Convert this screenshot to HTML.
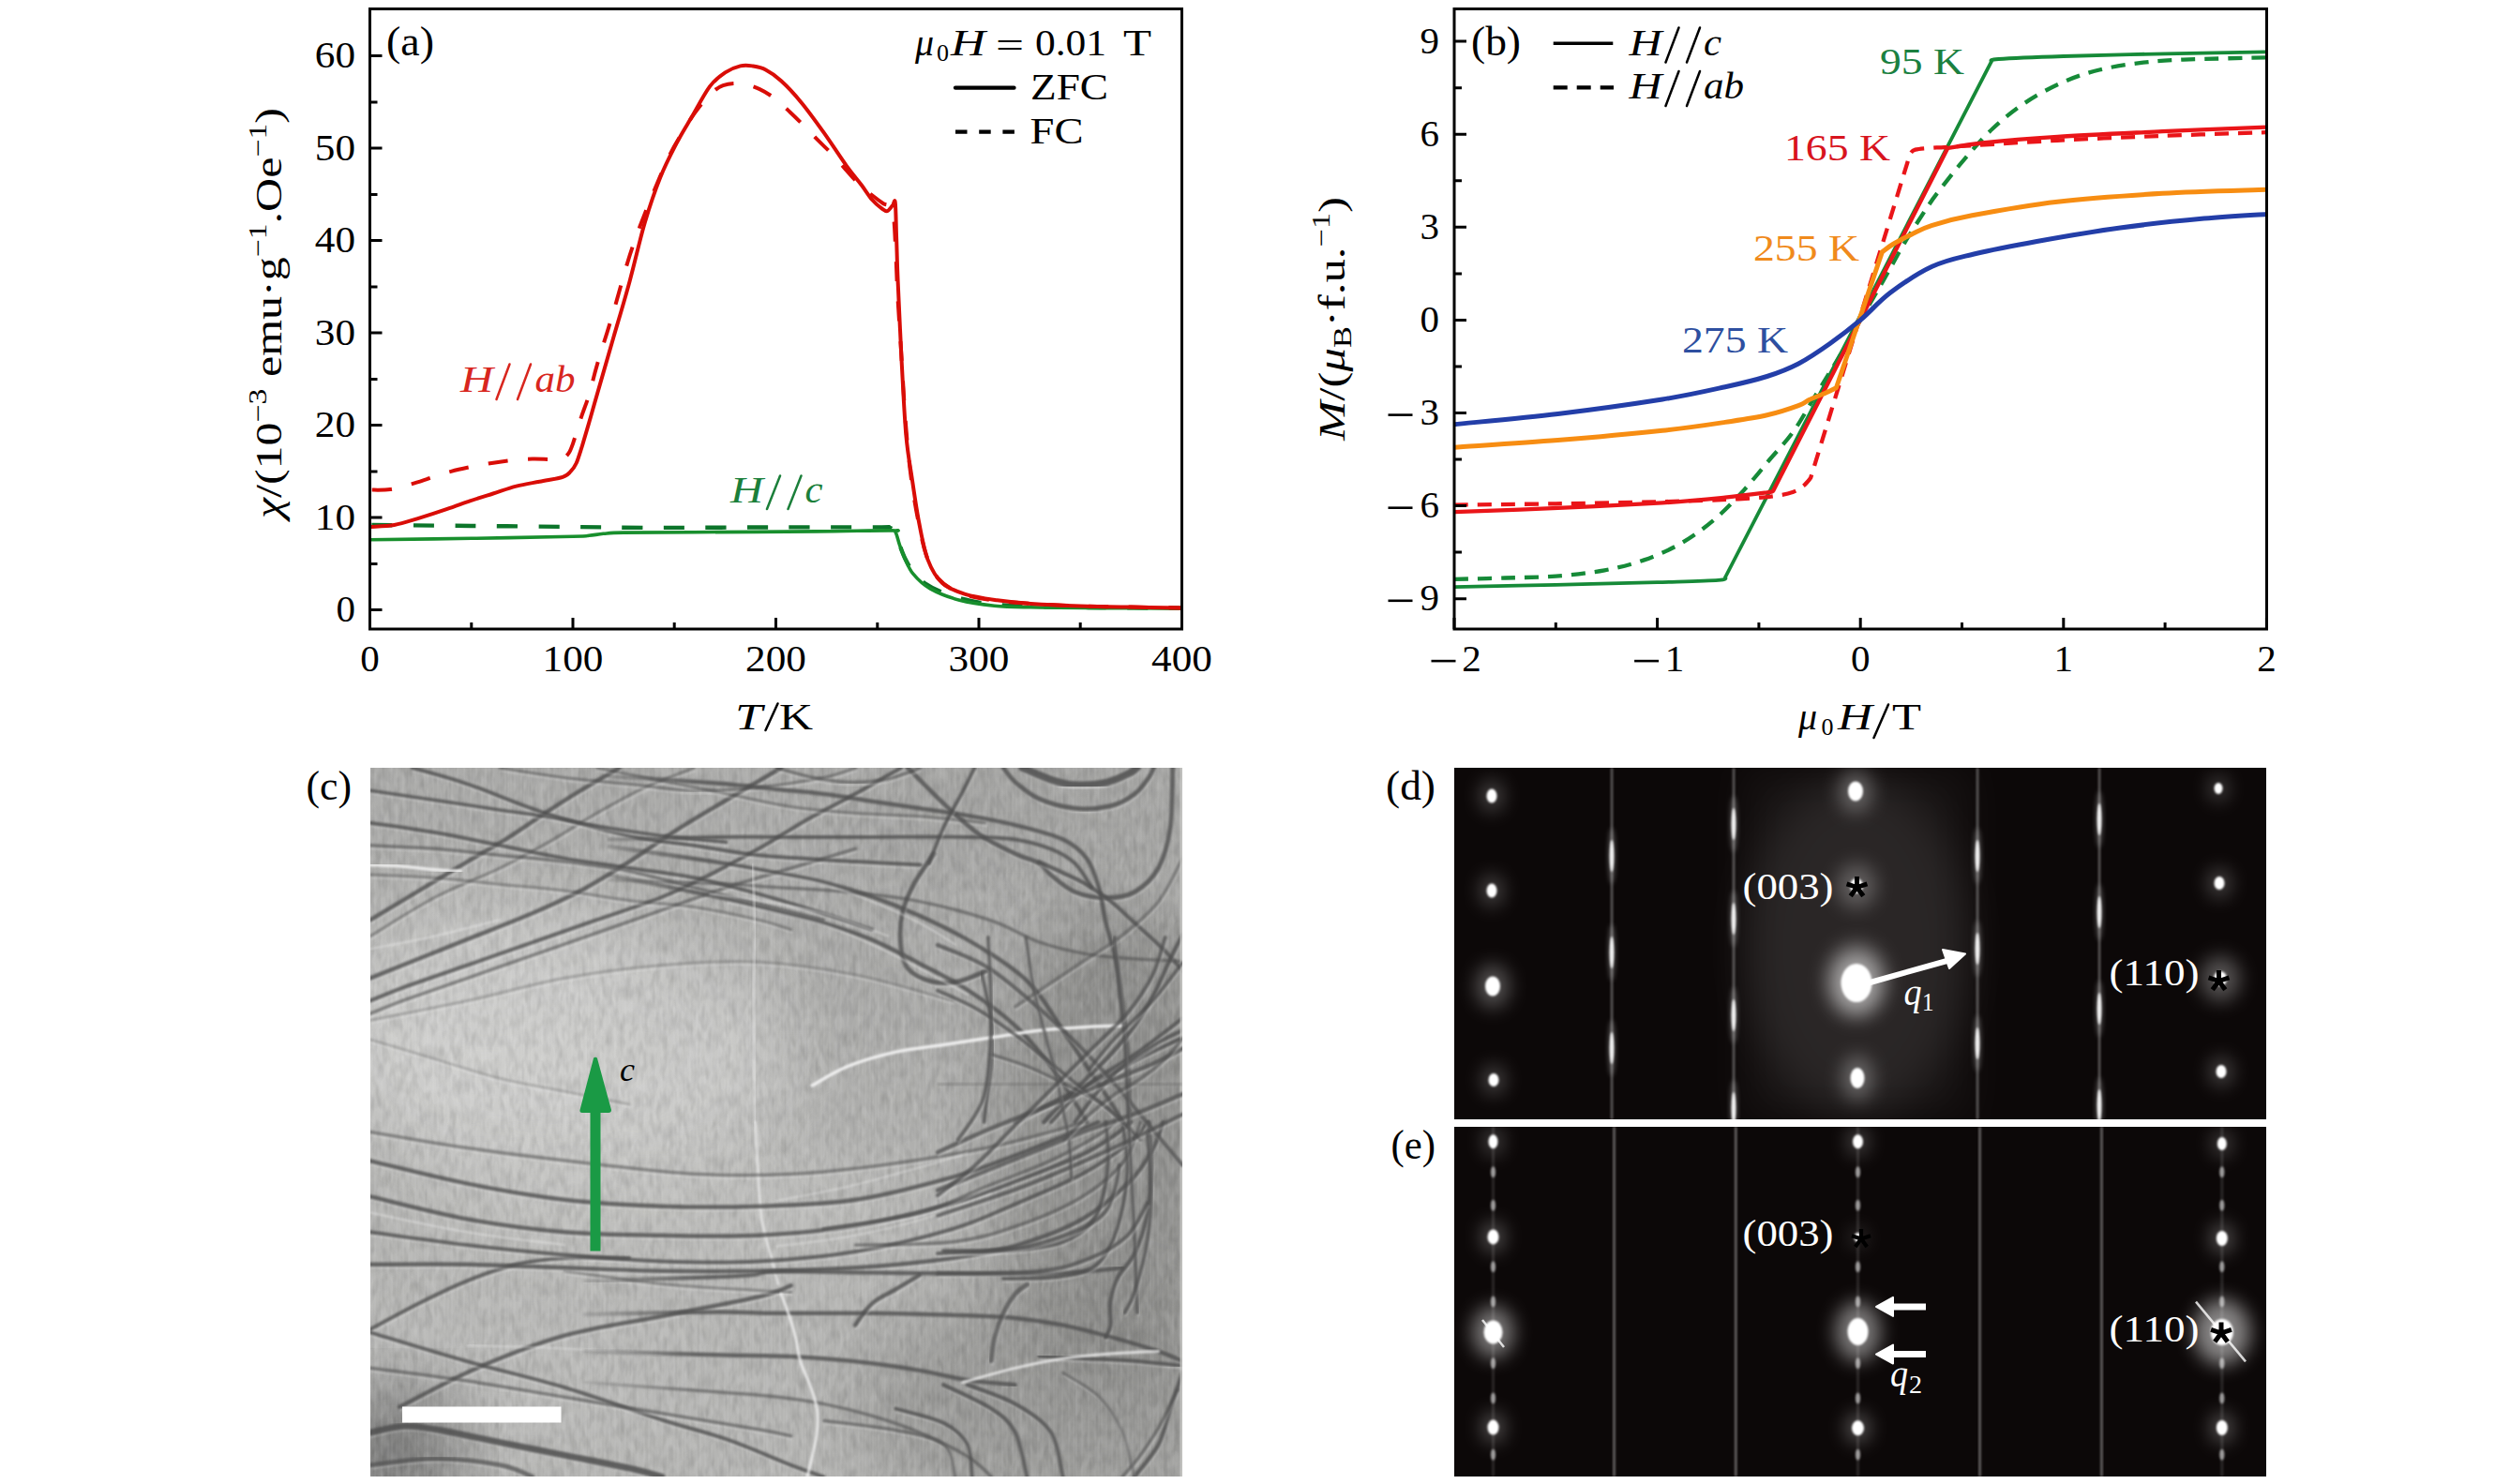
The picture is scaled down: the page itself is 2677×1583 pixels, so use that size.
<!DOCTYPE html><html><head><meta charset="utf-8"><style>html,body{margin:0;padding:0;background:#fff;overflow:hidden;width:2677px;height:1583px;}svg{display:block;}text{font-family:"Liberation Serif",serif;}</style></head><body>
<svg width="2677" height="1583" viewBox="0 0 2677 1583">
<defs>
<filter id="b1" x="-50%" y="-50%" width="200%" height="200%"><feGaussianBlur stdDeviation="1.2"/></filter>
<filter id="b2" x="-50%" y="-50%" width="200%" height="200%"><feGaussianBlur stdDeviation="2.5"/></filter>
<filter id="b4" x="-80%" y="-80%" width="260%" height="260%"><feGaussianBlur stdDeviation="5"/></filter>
<filter id="b8" x="-100%" y="-100%" width="300%" height="300%"><feGaussianBlur stdDeviation="10"/></filter>
<filter id="b16" x="-100%" y="-100%" width="300%" height="300%"><feGaussianBlur stdDeviation="22"/></filter>
<filter id="bs" x="-20%" y="-5%" width="140%" height="110%"><feGaussianBlur stdDeviation="1.0 3"/></filter>
<filter id="cb" x="-5%" y="-5%" width="110%" height="110%"><feGaussianBlur stdDeviation="1.3"/></filter>
<filter id="cb3" x="-10%" y="-10%" width="120%" height="120%"><feGaussianBlur stdDeviation="3"/></filter>
<filter id="noise" x="0" y="0" width="100%" height="100%"><feTurbulence type="fractalNoise" baseFrequency="0.15 0.06" numOctaves="2" seed="7" result="t"/><feColorMatrix type="matrix" values="0 0 0 0 0  0 0 0 0 0  0 0 0 0 0  -1.6 0 0 0 1.0" /></filter>
<filter id="noise2" x="0" y="0" width="100%" height="100%"><feTurbulence type="fractalNoise" baseFrequency="0.15 0.06" numOctaves="2" seed="11" result="t"/><feColorMatrix type="matrix" values="0 0 0 0 1  0 0 0 0 1  0 0 0 0 1  1.6 0 0 0 -0.6" /></filter>
<linearGradient id="topdark" x1="0" y1="0" x2="0" y2="1"><stop offset="0" stop-color="#000" stop-opacity="0.06"/><stop offset="0.3" stop-color="#000" stop-opacity="0.03"/><stop offset="0.45" stop-color="#000" stop-opacity="0"/><stop offset="1" stop-color="#000" stop-opacity="0"/></linearGradient>
<linearGradient id="fadeL" gradientUnits="userSpaceOnUse" x1="590" y1="0" x2="740" y2="0"><stop offset="0" stop-color="#505050" stop-opacity="0"/><stop offset="1" stop-color="#505050" stop-opacity="1"/></linearGradient>
<filter id="cbig" x="-30%" y="-30%" width="160%" height="160%"><feGaussianBlur stdDeviation="40"/></filter>
</defs>
<path d="M394.5,560.0 C412.5,560.1 466.7,560.6 502.8,561.0 C538.8,561.3 578.5,561.6 611.0,562.0 C643.5,562.3 661.5,562.9 697.6,562.9 C733.7,563.0 787.8,562.5 827.5,562.4 C867.2,562.4 915.5,562.4 935.8,562.4 C956.0,562.5 945.5,561.9 948.7,562.9 C952.0,564.0 953.4,565.7 955.2,568.8 C957.0,572.0 957.8,576.9 959.6,581.6 C961.4,586.4 963.5,592.5 966.1,597.4 C968.6,602.3 971.1,606.9 974.7,611.2 C978.3,615.5 982.7,619.6 987.7,623.0 C992.8,626.5 998.5,629.3 1005.0,631.9 C1011.5,634.5 1018.4,636.7 1026.7,638.8 C1035.0,640.8 1042.9,642.9 1054.8,644.2 C1066.7,645.5 1078.3,646.2 1098.1,646.9 C1118.0,647.5 1146.8,647.8 1173.9,648.1 C1201.0,648.4 1246.1,648.5 1260.5,648.6" fill="none" stroke="#0c752a" stroke-width="4.4" stroke-linejoin="round" stroke-dasharray="22 22.5" stroke-dashoffset="-2.0"/>
<path d="M394.5,575.7 C412.5,575.5 466.7,574.8 502.8,574.3 C538.8,573.7 590.1,572.8 611.0,572.3 C631.9,571.8 622.9,571.8 628.3,571.3 C633.7,570.8 637.3,569.9 643.5,569.3 C649.6,568.8 648.9,568.3 665.1,568.1 C681.4,567.8 706.6,567.9 740.9,567.7 C775.2,567.5 835.8,567.2 870.8,566.9 C905.8,566.6 936.8,565.7 950.9,565.9 C965.0,566.1 953.8,565.2 955.2,567.9 C956.7,570.5 957.9,577.1 959.6,581.6 C961.2,586.2 962.6,590.4 965.0,595.4 C967.4,600.5 969.3,606.8 973.9,612.2 C978.4,617.6 983.8,623.3 992.0,627.9 C1000.3,632.6 1012.0,637.2 1023.4,640.3 C1034.8,643.3 1047.8,644.9 1060.5,646.2 C1073.1,647.4 1080.5,647.4 1099.4,647.8 C1118.3,648.3 1147.1,648.4 1173.9,648.6 C1200.7,648.8 1246.1,649.0 1260.5,649.1" fill="none" stroke="#188f2d" stroke-width="3.6" stroke-linejoin="round"/>
<path d="M394.5,522.6 C398.1,522.5 408.9,523.0 416.1,522.1 C423.4,521.1 430.6,518.7 437.8,516.6 C445.0,514.6 452.2,512.0 459.4,509.7 C466.7,507.4 473.9,504.8 481.1,502.9 C488.3,500.9 495.5,499.4 502.8,497.9 C510.0,496.4 517.2,495.1 524.4,494.0 C531.6,492.8 538.8,491.8 546.0,491.0 C553.3,490.3 560.5,489.7 567.7,489.6 C574.9,489.4 583.9,490.1 589.4,490.0 C594.8,490.0 597.3,490.2 600.2,489.1 C603.1,487.9 604.9,485.8 606.7,483.2 C608.5,480.5 608.8,479.5 611.0,473.3 C613.2,467.1 616.8,454.4 619.7,445.7 C622.5,437.0 625.4,430.6 628.3,421.1 C631.2,411.6 632.6,403.4 637.0,388.6 C641.3,373.8 648.9,350.7 654.3,332.4 C659.7,314.2 664.8,294.4 669.5,279.3 C674.1,264.2 677.8,254.5 682.4,241.8 C687.1,229.2 692.2,216.4 697.6,203.4 C703.0,190.4 709.9,174.4 714.9,164.0 C720.0,153.7 723.6,148.6 727.9,141.4 C732.2,134.1 736.2,127.2 740.9,120.7 C745.6,114.1 751.0,106.9 756.1,102.0 C761.1,97.0 765.4,93.3 771.2,91.1 C777.0,89.0 784.2,88.5 790.7,89.2 C797.2,89.8 804.0,92.3 810.2,95.1 C816.3,97.9 822.1,101.8 827.5,105.9 C832.9,110.0 837.6,114.9 842.7,119.7 C847.7,124.4 852.8,129.4 857.8,134.5 C862.9,139.5 868.3,145.5 873.0,150.2 C877.7,155.0 881.3,158.1 886.0,163.0 C890.6,168.0 896.1,174.2 901.1,179.8 C906.2,185.4 911.2,191.6 916.3,196.5 C921.3,201.4 927.1,205.9 931.4,209.3 C935.8,212.8 939.4,215.4 942.2,217.2 C945.1,219.0 946.9,217.7 948.7,220.2 C950.5,222.6 952.0,224.3 953.1,232.0 C954.2,239.7 954.5,252.5 955.2,266.5 C956.0,280.4 956.3,296.0 957.4,315.7 C958.5,335.4 960.3,361.7 961.7,384.7 C963.2,407.6 964.4,433.1 966.1,453.6 C967.7,474.1 969.3,491.0 971.5,507.8 C973.6,524.5 976.3,540.1 979.0,554.1 C981.8,568.0 984.1,581.0 987.7,591.5 C991.3,602.0 994.9,610.4 1000.7,617.1 C1006.5,623.8 1013.3,628.1 1022.4,631.9 C1031.4,635.7 1042.2,637.8 1054.8,639.8 C1067.5,641.7 1081.9,642.6 1098.1,643.7 C1114.4,644.8 1134.2,645.8 1152.2,646.5 C1170.3,647.1 1188.3,647.3 1206.4,647.6 C1224.4,648.0 1251.5,648.3 1260.5,648.4" fill="none" stroke="#d90d07" stroke-width="4.0" stroke-linejoin="round" stroke-dasharray="21 21.5" stroke-dashoffset="-2.5"/>
<path d="M394.5,562.0 C398.8,561.6 412.0,561.5 420.5,560.0 C429.0,558.5 436.3,555.9 445.6,553.1 C454.9,550.3 467.1,546.4 476.3,543.2 C485.6,540.1 493.0,537.2 501.2,534.4 C509.5,531.6 517.7,529.1 525.9,526.5 C534.1,523.9 542.3,520.7 550.6,518.6 C558.9,516.5 567.2,515.3 575.5,513.7 C583.8,512.0 594.7,510.6 600.2,508.8 C605.7,507.0 606.2,505.3 608.6,502.9 C611.0,500.4 612.6,498.6 614.7,494.0 C616.7,489.4 618.7,482.5 621.0,475.3 C623.2,468.0 625.6,459.8 628.3,450.6 C631.0,441.5 632.6,435.2 637.0,420.1 C641.3,405.0 648.5,380.1 654.3,360.0 C660.1,340.0 666.1,320.3 671.6,299.9 C677.2,279.6 682.2,256.3 687.6,237.9 C693.1,219.5 698.5,203.7 704.1,189.6 C709.7,175.5 715.8,164.0 721.4,153.2 C727.0,142.3 731.9,134.8 737.9,124.6 C743.8,114.4 751.2,100.0 757.1,92.1 C763.1,84.2 768.0,80.9 773.4,77.3 C778.8,73.7 784.7,71.6 789.6,70.4 C794.5,69.3 798.1,69.8 802.6,70.4 C807.1,71.1 811.6,71.7 816.7,74.4 C821.8,77.0 826.9,80.4 833.1,86.2 C839.4,91.9 846.8,99.7 854.3,108.9 C861.9,118.0 870.5,130.0 878.6,141.4 C886.7,152.7 896.1,167.5 902.8,176.8 C909.6,186.2 914.3,191.4 918.9,197.5 C923.4,203.6 926.8,209.2 930.3,213.3 C933.9,217.4 937.4,220.2 940.1,222.1 C942.8,224.1 944.4,225.6 946.4,225.1 C948.3,224.6 950.6,220.6 952.0,219.2 C953.4,217.7 954.1,210.5 954.8,216.2 C955.5,222.0 955.6,239.7 956.1,253.6 C956.6,267.6 956.7,277.8 957.6,299.9 C958.6,322.1 960.3,359.4 961.7,386.6 C963.2,413.9 964.5,442.9 966.3,463.5 C968.1,484.0 970.2,494.1 972.6,509.7 C974.9,525.3 977.3,542.4 980.1,557.0 C983.0,571.6 985.5,586.6 989.7,597.4 C993.8,608.2 998.4,616.0 1005.0,622.0 C1011.7,628.1 1019.8,630.8 1029.5,633.9 C1039.2,636.9 1051.8,638.6 1063.5,640.3 C1075.1,641.9 1084.6,643.0 1099.4,644.0 C1114.2,645.0 1134.4,645.9 1152.2,646.5 C1170.1,647.1 1188.3,647.3 1206.4,647.6 C1224.4,648.0 1251.5,648.3 1260.5,648.4" fill="none" stroke="#d90d07" stroke-width="4.0" stroke-linejoin="round"/>
<rect x="394.5" y="9.5" width="866.0" height="661.5" fill="none" stroke="#000" stroke-width="3"/>
<path d="M394.5,650.6 h13.0 M394.5,601.4 h8.0 M394.5,552.1 h13.0 M394.5,502.9 h8.0 M394.5,453.6 h13.0 M394.5,404.4 h8.0 M394.5,355.1 h13.0 M394.5,305.9 h8.0 M394.5,256.6 h13.0 M394.5,207.4 h8.0 M394.5,158.1 h13.0 M394.5,108.9 h8.0 M394.5,59.6 h13.0 M394.5,671.0 v-12.0 M502.8,671.0 v-7.0 M611.0,671.0 v-12.0 M719.2,671.0 v-7.0 M827.5,671.0 v-12.0 M935.8,671.0 v-7.0 M1044.0,671.0 v-12.0 M1152.2,671.0 v-7.0 M1260.5,671.0 v-12.0" stroke="#000" stroke-width="3" fill="none"/>
<text x="379.0" y="663.1" font-size="41.0" text-anchor="end" fill="#000" >0</text>
<text x="379.0" y="564.6" font-size="41.0" text-anchor="end" fill="#000" textLength="43.2" lengthAdjust="spacingAndGlyphs" >10</text>
<text x="379.0" y="466.1" font-size="41.0" text-anchor="end" fill="#000" textLength="43.2" lengthAdjust="spacingAndGlyphs" >20</text>
<text x="379.0" y="367.6" font-size="41.0" text-anchor="end" fill="#000" textLength="43.2" lengthAdjust="spacingAndGlyphs" >30</text>
<text x="379.0" y="269.1" font-size="41.0" text-anchor="end" fill="#000" textLength="43.2" lengthAdjust="spacingAndGlyphs" >40</text>
<text x="379.0" y="170.6" font-size="41.0" text-anchor="end" fill="#000" textLength="43.2" lengthAdjust="spacingAndGlyphs" >50</text>
<text x="379.0" y="72.1" font-size="41.0" text-anchor="end" fill="#000" textLength="43.2" lengthAdjust="spacingAndGlyphs" >60</text>
<text x="394.5" y="716.0" font-size="41.0" text-anchor="middle" fill="#000" >0</text>
<text x="611.0" y="716.0" font-size="41.0" text-anchor="middle" fill="#000" textLength="64.8" lengthAdjust="spacingAndGlyphs" >100</text>
<text x="827.5" y="716.0" font-size="41.0" text-anchor="middle" fill="#000" textLength="64.8" lengthAdjust="spacingAndGlyphs" >200</text>
<text x="1044.0" y="716.0" font-size="41.0" text-anchor="middle" fill="#000" textLength="64.8" lengthAdjust="spacingAndGlyphs" >300</text>
<text x="1260.5" y="716.0" font-size="41.0" text-anchor="middle" fill="#000" textLength="64.8" lengthAdjust="spacingAndGlyphs" >400</text>
<text x="412.0" y="58.9" font-size="44.0" text-anchor="start" fill="#000" textLength="51.0" lengthAdjust="spacingAndGlyphs" >(a)</text>
<text x="976.0" y="58.5" font-size="40.0" text-anchor="start" fill="#000" font-style="italic" >μ</text>
<text x="999.0" y="64.5" font-size="26.0" text-anchor="start" fill="#000" >0</text>
<text x="1014.0" y="58.5" font-size="40.0" text-anchor="start" fill="#000" font-style="italic" textLength="37.0" lengthAdjust="spacingAndGlyphs" >H</text>
<text x="1062.0" y="61.5" font-size="40.0" text-anchor="start" fill="#000" textLength="30.0" lengthAdjust="spacingAndGlyphs" >=</text>
<text x="1104.0" y="58.5" font-size="40.0" text-anchor="start" fill="#000" textLength="76.0" lengthAdjust="spacingAndGlyphs" >0.01</text>
<text x="1198.0" y="58.5" font-size="40.0" text-anchor="start" fill="#000" textLength="30.0" lengthAdjust="spacingAndGlyphs" >T</text>
<line x1="1019" y1="93.7" x2="1081.5" y2="93.7" stroke="#000" stroke-width="4.3" stroke-linecap="round"/>
<line x1="1019" y1="140.7" x2="1082" y2="140.7" stroke="#000" stroke-width="4.3" stroke-dasharray="12.5 12.7"/>
<text x="1099.0" y="105.5" font-size="40.0" text-anchor="start" fill="#000" textLength="83.0" lengthAdjust="spacingAndGlyphs" >ZFC</text>
<text x="1098.5" y="152.6" font-size="40.0" text-anchor="start" fill="#000" textLength="57.0" lengthAdjust="spacingAndGlyphs" >FC</text>
<text x="491.0" y="417.7" font-size="40.0" text-anchor="start" fill="#d8261e" font-style="italic" textLength="35.0" lengthAdjust="spacingAndGlyphs" >H</text>
<line x1="529.5" y1="426.0" x2="543.5" y2="388.5" stroke="#d8261e" stroke-width="2.5" stroke-linecap="round"/>
<line x1="552.0" y1="426.0" x2="566.0" y2="388.5" stroke="#d8261e" stroke-width="2.5" stroke-linecap="round"/>
<text x="570.5" y="417.7" font-size="40.0" text-anchor="start" fill="#d8261e" font-style="italic" textLength="43.0" lengthAdjust="spacingAndGlyphs" >ab</text>
<text x="779.0" y="535.7" font-size="40.0" text-anchor="start" fill="#1b7f3a" font-style="italic" textLength="35.0" lengthAdjust="spacingAndGlyphs" >H</text>
<line x1="818.0" y1="543.0" x2="832.0" y2="507.5" stroke="#1b7f3a" stroke-width="2.5" stroke-linecap="round"/>
<line x1="840.5" y1="543.0" x2="854.5" y2="507.5" stroke="#1b7f3a" stroke-width="2.5" stroke-linecap="round"/>
<text x="858.5" y="535.7" font-size="40.0" text-anchor="start" fill="#1b7f3a" font-style="italic" textLength="19.0" lengthAdjust="spacingAndGlyphs" >c</text>
<text x="784.0" y="778.0" font-size="40.0" text-anchor="start" fill="#000" font-style="italic" textLength="29.0" lengthAdjust="spacingAndGlyphs" >T</text>
<line x1="816.5" y1="779.0" x2="829.5" y2="750.5" stroke="#000" stroke-width="2.5" stroke-linecap="round"/>
<text x="831.0" y="778.0" font-size="40.0" text-anchor="start" fill="#000" textLength="36.0" lengthAdjust="spacingAndGlyphs" >K</text>
<text transform="translate(299.5,553) rotate(-90)" font-size="40" fill="#000" textLength="438" lengthAdjust="spacingAndGlyphs"><tspan font-style="italic">χ</tspan>/(10<tspan font-size="27" dy="-16">−3</tspan><tspan dy="16"> emu·g</tspan><tspan font-size="27" dy="-16">−1</tspan><tspan dy="16">.Oe</tspan><tspan font-size="27" dy="-16">−1</tspan><tspan dy="16">)</tspan></text>
<path d="M1551.0,617.9 C1560.0,617.6 1587.1,617.1 1605.2,616.5 C1623.2,616.0 1641.6,615.9 1659.3,614.6 C1677.0,613.2 1695.6,611.1 1711.3,608.3 C1727.0,605.4 1739.8,602.2 1753.5,597.4 C1767.2,592.5 1781.0,586.5 1793.6,579.2 C1806.2,571.9 1817.9,563.1 1828.9,553.8 C1839.9,544.4 1849.9,533.7 1859.7,523.1 C1869.4,512.4 1878.8,500.5 1887.6,490.0 C1896.4,479.6 1904.5,471.9 1912.7,460.3 C1921.0,448.7 1929.2,433.3 1937.0,420.7 C1944.7,408.0 1951.4,397.6 1959.3,384.3 C1967.2,371.1 1975.9,355.7 1984.2,341.4 C1992.5,327.1 2001.2,312.2 2009.1,298.5 C2017.0,284.7 2023.7,271.8 2031.4,258.8 C2039.2,245.9 2049.5,230.1 2055.7,220.8 C2061.9,211.5 2061.7,211.8 2068.5,203.0 C2075.2,194.3 2086.9,179.3 2096.4,168.3 C2105.9,157.4 2114.8,147.0 2125.2,137.3 C2135.6,127.6 2146.7,118.4 2159.0,110.2 C2171.3,102.0 2185.7,94.0 2199.1,88.1 C2212.4,82.1 2225.0,78.0 2239.1,74.5 C2253.3,71.0 2269.1,68.7 2284.0,66.9 C2298.9,65.1 2306.4,64.6 2328.6,63.6 C2350.8,62.7 2402.6,61.7 2417.4,61.3" fill="none" stroke="#168a38" stroke-width="4.3" stroke-linejoin="round" stroke-dasharray="15 10"/>
<path d="M1551.0,626.1 C1569.0,625.7 1623.2,624.6 1659.3,623.8 C1695.4,623.0 1738.7,622.0 1767.6,621.2 C1796.5,620.3 1820.5,619.8 1832.6,618.9 C1844.7,617.9 1838.9,616.1 1840.2,615.5 L1840.2,615.5 L2123.9,65.6 L2123.9,65.6 C2125.2,65.2 2118.7,63.9 2131.5,63.0 C2144.3,62.0 2171.2,60.9 2200.8,60.0 C2230.4,59.0 2273.0,58.1 2309.1,57.3 C2345.2,56.6 2399.3,55.7 2417.4,55.4" fill="none" stroke="#168a38" stroke-width="3.8" stroke-linejoin="round"/>
<path d="M1551.0,538.6 C1569.0,538.4 1623.2,537.8 1659.3,537.3 C1695.4,536.7 1735.1,536.1 1767.6,535.3 C1800.1,534.5 1833.3,533.4 1854.2,532.3 C1875.2,531.3 1883.5,530.3 1893.2,529.0 C1903.0,527.7 1907.7,526.5 1912.7,524.7 C1917.8,522.9 1920.5,520.6 1923.6,518.1 C1926.6,515.6 1929.9,511.2 1931.1,509.9 L1931.1,509.9 L2037.3,163.7 L2037.3,163.7 C2038.2,163.0 2038.9,160.7 2042.7,159.7 C2046.5,158.7 2053.3,158.3 2060.0,157.8 C2066.8,157.2 2060.8,157.8 2083.2,156.4 C2105.6,155.1 2157.0,151.8 2194.3,149.8 C2231.6,147.9 2269.8,146.3 2306.9,144.9 C2344.1,143.4 2399.0,141.8 2417.4,141.2" fill="none" stroke="#ea1519" stroke-width="4.3" stroke-linejoin="round" stroke-dasharray="15 10"/>
<path d="M1551.0,546.2 C1569.4,545.5 1624.5,543.5 1661.5,541.9 C1698.5,540.2 1743.3,538.1 1773.0,536.3 C1802.8,534.4 1821.4,532.5 1839.9,530.7 C1858.5,528.8 1876.0,526.5 1884.6,525.4 C1893.1,524.2 1890.0,524.0 1891.1,523.7 L1891.1,523.7 L2077.3,158.1 L2077.3,158.1 C2083.5,157.1 2094.6,154.5 2114.2,152.5 C2133.7,150.4 2162.5,147.9 2194.5,145.9 C2226.5,143.8 2269.1,142.0 2306.3,140.2 C2343.4,138.5 2398.9,136.4 2417.4,135.6" fill="none" stroke="#ea1519" stroke-width="4.3" stroke-linejoin="round"/>
<path d="M1551.0,477.2 C1569.4,475.9 1624.5,472.5 1661.5,469.6 C1698.5,466.6 1743.3,462.5 1773.0,459.3 C1802.8,456.1 1821.4,453.2 1839.9,450.4 C1858.5,447.6 1871.5,445.8 1884.6,442.8 C1897.6,439.8 1910.7,435.3 1918.1,432.6 C1925.6,429.9 1924.5,428.9 1929.4,426.6 C1934.3,424.4 1942.5,421.2 1947.4,419.0 C1952.2,416.9 1956.6,414.6 1958.4,413.7 L1958.4,413.7 L2007.4,268.7 L2007.4,268.7 C2009.3,267.4 2013.7,263.6 2018.9,260.5 C2024.0,257.4 2031.4,253.6 2038.4,250.2 C2045.3,246.9 2049.8,243.7 2060.7,240.3 C2071.5,236.9 2081.0,233.9 2103.3,229.8 C2125.6,225.6 2160.7,219.1 2194.5,215.2 C2228.3,211.3 2269.1,208.5 2306.3,206.3 C2343.4,204.2 2398.9,203.0 2417.4,202.3" fill="none" stroke="#f78d12" stroke-width="5.0" stroke-linejoin="round"/>
<path d="M1551.0,452.7 C1569.4,450.8 1624.5,445.9 1661.5,441.5 C1698.5,437.0 1743.3,430.7 1773.0,426.0 C1802.8,421.2 1821.4,416.8 1839.9,412.7 C1858.5,408.7 1871.5,405.6 1884.6,401.5 C1897.6,397.4 1906.9,393.8 1918.1,388.0 C1929.3,382.1 1940.7,374.3 1951.7,366.5 C1962.7,358.7 1973.5,350.4 1984.2,341.4 C1994.9,332.4 2003.3,321.9 2016.0,312.3 C2028.8,302.8 2045.8,291.1 2060.7,284.3 C2075.5,277.4 2086.7,275.5 2105.3,271.0 C2123.9,266.6 2146.4,262.2 2172.4,257.5 C2198.5,252.8 2231.7,247.0 2261.4,243.0 C2291.2,238.9 2324.7,235.5 2350.7,233.1 C2376.7,230.6 2406.3,229.2 2417.4,228.4" fill="none" stroke="#233ea8" stroke-width="5.0" stroke-linejoin="round"/>
<rect x="1551.0" y="9.5" width="866.5" height="661.5" fill="none" stroke="#000" stroke-width="3"/>
<path d="M1551.0,638.7 h13.0 M1551.0,589.1 h8.0 M1551.0,539.6 h13.0 M1551.0,490.0 h8.0 M1551.0,440.5 h13.0 M1551.0,390.9 h8.0 M1551.0,341.4 h13.0 M1551.0,291.9 h8.0 M1551.0,242.3 h13.0 M1551.0,192.8 h8.0 M1551.0,143.2 h13.0 M1551.0,93.7 h8.0 M1551.0,44.1 h13.0 M1551.0,671.0 v-12.0 M1659.3,671.0 v-7.0 M1767.6,671.0 v-12.0 M1875.9,671.0 v-7.0 M1984.2,671.0 v-12.0 M2092.5,671.0 v-7.0 M2200.8,671.0 v-12.0 M2309.1,671.0 v-7.0 M2417.4,671.0 v-12.0" stroke="#000" stroke-width="3" fill="none"/>
<text x="1535.0" y="56.6" font-size="41.0" text-anchor="end" fill="#000" >9</text>
<text x="1535.0" y="155.7" font-size="41.0" text-anchor="end" fill="#000" >6</text>
<text x="1535.0" y="254.8" font-size="41.0" text-anchor="end" fill="#000" >3</text>
<text x="1535.0" y="353.9" font-size="41.0" text-anchor="end" fill="#000" >0</text>
<text x="1535.0" y="453.0" font-size="41.0" text-anchor="end" fill="#000" >3</text>
<rect x="1480.5" y="441.3" width="26" height="2.6" fill="#000"/>
<text x="1535.0" y="552.1" font-size="41.0" text-anchor="end" fill="#000" >6</text>
<rect x="1480.5" y="540.4" width="26" height="2.6" fill="#000"/>
<text x="1535.0" y="651.2" font-size="41.0" text-anchor="end" fill="#000" >9</text>
<rect x="1480.5" y="639.5" width="26" height="2.6" fill="#000"/>
<rect x="1526.5" y="703.8" width="26" height="2.6" fill="#000"/>
<text x="1569.5" y="716.0" font-size="41.0" text-anchor="middle" fill="#000" >2</text>
<rect x="1743.1" y="703.8" width="26" height="2.6" fill="#000"/>
<text x="1786.1" y="716.0" font-size="41.0" text-anchor="middle" fill="#000" >1</text>
<text x="1984.2" y="716.0" font-size="41.0" text-anchor="middle" fill="#000" >0</text>
<text x="2200.8" y="716.0" font-size="41.0" text-anchor="middle" fill="#000" >1</text>
<text x="2417.4" y="716.0" font-size="41.0" text-anchor="middle" fill="#000" >2</text>
<text x="1569.0" y="58.9" font-size="44.0" text-anchor="start" fill="#000" textLength="53.0" lengthAdjust="spacingAndGlyphs" >(b)</text>
<line x1="1656.7" y1="46.3" x2="1720.3" y2="46.3" stroke="#000" stroke-width="3.4"/>
<line x1="1656.7" y1="93.3" x2="1721" y2="93.3" stroke="#000" stroke-width="4.3" stroke-dasharray="15 10"/>
<text x="1737.5" y="58.8" font-size="40.0" text-anchor="start" fill="#000" font-style="italic" textLength="35.0" lengthAdjust="spacingAndGlyphs" >H</text>
<line x1="1776.5" y1="66.5" x2="1790.5" y2="29.5" stroke="#000" stroke-width="2.5" stroke-linecap="round"/>
<line x1="1799.0" y1="66.5" x2="1813.0" y2="29.5" stroke="#000" stroke-width="2.5" stroke-linecap="round"/>
<text x="1817.0" y="58.8" font-size="40.0" text-anchor="start" fill="#000" font-style="italic" textLength="19.0" lengthAdjust="spacingAndGlyphs" >c</text>
<text x="1737.5" y="105.2" font-size="40.0" text-anchor="start" fill="#000" font-style="italic" textLength="35.0" lengthAdjust="spacingAndGlyphs" >H</text>
<line x1="1776.5" y1="113.0" x2="1790.5" y2="76.0" stroke="#000" stroke-width="2.5" stroke-linecap="round"/>
<line x1="1799.0" y1="113.0" x2="1813.0" y2="76.0" stroke="#000" stroke-width="2.5" stroke-linecap="round"/>
<text x="1817.0" y="105.2" font-size="40.0" text-anchor="start" fill="#000" font-style="italic" textLength="43.0" lengthAdjust="spacingAndGlyphs" >ab</text>
<text x="2005.0" y="79.0" font-size="40.0" text-anchor="start" fill="#1b8040" textLength="90.0" lengthAdjust="spacingAndGlyphs" >95 K</text>
<text x="1903.0" y="170.5" font-size="40.0" text-anchor="start" fill="#d8141e" textLength="113.0" lengthAdjust="spacingAndGlyphs" >165 K</text>
<text x="1870.0" y="277.7" font-size="40.0" text-anchor="start" fill="#f08a1c" textLength="113.0" lengthAdjust="spacingAndGlyphs" >255 K</text>
<text x="1794.0" y="375.7" font-size="40.0" text-anchor="start" fill="#2e4fa0" textLength="113.0" lengthAdjust="spacingAndGlyphs" >275 K</text>
<text x="1918.0" y="778.0" font-size="40.0" text-anchor="start" fill="#000" font-style="italic" >μ</text>
<text x="1942.5" y="784.3" font-size="26.0" text-anchor="start" fill="#000" >0</text>
<text x="1960.0" y="778.0" font-size="40.0" text-anchor="start" fill="#000" font-style="italic" textLength="37.0" lengthAdjust="spacingAndGlyphs" >H</text>
<line x1="1998.5" y1="787.0" x2="2014.0" y2="751.5" stroke="#000" stroke-width="2.5" stroke-linecap="round"/>
<text x="2018.0" y="778.0" font-size="40.0" text-anchor="start" fill="#000" textLength="31.0" lengthAdjust="spacingAndGlyphs" >T</text>
<text transform="translate(1433.5,470) rotate(-90)" font-size="40" fill="#000" textLength="260" lengthAdjust="spacingAndGlyphs"><tspan font-style="italic">M</tspan>/(<tspan font-style="italic">μ</tspan><tspan font-size="27" dy="7">B</tspan><tspan dy="-7">·f.u.</tspan><tspan font-size="27" dy="-16">−1</tspan><tspan dy="16">)</tspan></text>
<clipPath id="clipd"><rect x="1551" y="819" width="866" height="375"/></clipPath>
<clipPath id="clipe"><rect x="1551" y="1202" width="866" height="373"/></clipPath>
<g clip-path="url(#clipd)">
<rect x="1551" y="819" width="866" height="375" fill="#0c0808"/>
<rect x="1860" y="819" width="240" height="375" fill="#fff" opacity="0.045" filter="url(#b16)"/>
<ellipse cx="1980" cy="1010" rx="120" ry="180" fill="#fff" opacity="0.08" filter="url(#b16)"/>
<ellipse cx="1980" cy="1046" rx="34" ry="42" fill="#fff" opacity="0.25" filter="url(#b8)"/>
<rect x="1717.8" y="819.0" width="2.5" height="375.0" fill="#fff" opacity="0.33" filter="url(#b1)"/>
<ellipse cx="1719.0" cy="913.0" rx="2.4" ry="17" fill="#fff" opacity="0.9" filter="url(#b1)"/>
<ellipse cx="1719.0" cy="913.0" rx="4" ry="30" fill="#fff" opacity="0.25" filter="url(#b2)"/>
<ellipse cx="1719.0" cy="1016.0" rx="2.4" ry="17" fill="#fff" opacity="0.9" filter="url(#b1)"/>
<ellipse cx="1719.0" cy="1016.0" rx="4" ry="30" fill="#fff" opacity="0.25" filter="url(#b2)"/>
<ellipse cx="1719.0" cy="1118.0" rx="2.4" ry="17" fill="#fff" opacity="0.9" filter="url(#b1)"/>
<ellipse cx="1719.0" cy="1118.0" rx="4" ry="30" fill="#fff" opacity="0.25" filter="url(#b2)"/>
<rect x="1847.8" y="819.0" width="2.5" height="375.0" fill="#fff" opacity="0.33" filter="url(#b1)"/>
<ellipse cx="1849.0" cy="879.0" rx="2.4" ry="17" fill="#fff" opacity="0.9" filter="url(#b1)"/>
<ellipse cx="1849.0" cy="879.0" rx="4" ry="30" fill="#fff" opacity="0.25" filter="url(#b2)"/>
<ellipse cx="1849.0" cy="980.0" rx="2.4" ry="17" fill="#fff" opacity="0.9" filter="url(#b1)"/>
<ellipse cx="1849.0" cy="980.0" rx="4" ry="30" fill="#fff" opacity="0.25" filter="url(#b2)"/>
<ellipse cx="1849.0" cy="1083.0" rx="2.4" ry="17" fill="#fff" opacity="0.9" filter="url(#b1)"/>
<ellipse cx="1849.0" cy="1083.0" rx="4" ry="30" fill="#fff" opacity="0.25" filter="url(#b2)"/>
<ellipse cx="1849.0" cy="1182.0" rx="2.4" ry="17" fill="#fff" opacity="0.9" filter="url(#b1)"/>
<ellipse cx="1849.0" cy="1182.0" rx="4" ry="30" fill="#fff" opacity="0.25" filter="url(#b2)"/>
<rect x="2107.8" y="819.0" width="2.5" height="375.0" fill="#fff" opacity="0.33" filter="url(#b1)"/>
<ellipse cx="2109.0" cy="913.0" rx="2.4" ry="17" fill="#fff" opacity="0.9" filter="url(#b1)"/>
<ellipse cx="2109.0" cy="913.0" rx="4" ry="30" fill="#fff" opacity="0.25" filter="url(#b2)"/>
<ellipse cx="2109.0" cy="1012.0" rx="2.4" ry="17" fill="#fff" opacity="0.9" filter="url(#b1)"/>
<ellipse cx="2109.0" cy="1012.0" rx="4" ry="30" fill="#fff" opacity="0.25" filter="url(#b2)"/>
<ellipse cx="2109.0" cy="1113.0" rx="2.4" ry="17" fill="#fff" opacity="0.9" filter="url(#b1)"/>
<ellipse cx="2109.0" cy="1113.0" rx="4" ry="30" fill="#fff" opacity="0.25" filter="url(#b2)"/>
<rect x="2237.8" y="819.0" width="2.5" height="375.0" fill="#fff" opacity="0.33" filter="url(#b1)"/>
<ellipse cx="2239.0" cy="874.0" rx="2.4" ry="17" fill="#fff" opacity="0.9" filter="url(#b1)"/>
<ellipse cx="2239.0" cy="874.0" rx="4" ry="30" fill="#fff" opacity="0.25" filter="url(#b2)"/>
<ellipse cx="2239.0" cy="973.0" rx="2.4" ry="17" fill="#fff" opacity="0.9" filter="url(#b1)"/>
<ellipse cx="2239.0" cy="973.0" rx="4" ry="30" fill="#fff" opacity="0.25" filter="url(#b2)"/>
<ellipse cx="2239.0" cy="1076.0" rx="2.4" ry="17" fill="#fff" opacity="0.9" filter="url(#b1)"/>
<ellipse cx="2239.0" cy="1076.0" rx="4" ry="30" fill="#fff" opacity="0.25" filter="url(#b2)"/>
<ellipse cx="2239.0" cy="1179.0" rx="2.4" ry="17" fill="#fff" opacity="0.9" filter="url(#b1)"/>
<ellipse cx="2239.0" cy="1179.0" rx="4" ry="30" fill="#fff" opacity="0.25" filter="url(#b2)"/>
<ellipse cx="1591.0" cy="849.0" rx="12.1" ry="16.5" fill="#fff" opacity="0.25" filter="url(#b8)"/>
<ellipse cx="1591.0" cy="849.0" rx="5.5" ry="7.5" fill="#fff" filter="url(#b1)"/>
<ellipse cx="1591.0" cy="950.0" rx="12.1" ry="16.5" fill="#fff" opacity="0.25" filter="url(#b8)"/>
<ellipse cx="1591.0" cy="950.0" rx="5.5" ry="7.5" fill="#fff" filter="url(#b1)"/>
<ellipse cx="1592.0" cy="1052.0" rx="17.6" ry="23.1" fill="#fff" opacity="0.30" filter="url(#b8)"/>
<ellipse cx="1592.0" cy="1052.0" rx="8.0" ry="10.5" fill="#fff" filter="url(#b1)"/>
<ellipse cx="1593.0" cy="1152.0" rx="12.1" ry="15.4" fill="#fff" opacity="0.25" filter="url(#b8)"/>
<ellipse cx="1593.0" cy="1152.0" rx="5.5" ry="7.0" fill="#fff" filter="url(#b1)"/>
<ellipse cx="1979.0" cy="844.0" rx="17.6" ry="23.1" fill="#fff" opacity="0.30" filter="url(#b8)"/>
<ellipse cx="1979.0" cy="844.0" rx="8.0" ry="10.5" fill="#fff" filter="url(#b1)"/>
<ellipse cx="1980.0" cy="945.0" rx="21.0" ry="24.0" fill="#fff" opacity="0.25" filter="url(#b8)"/>
<ellipse cx="1980.0" cy="945.0" rx="7.0" ry="8.0" fill="#fff" filter="url(#b1)"/>
<ellipse cx="1980.0" cy="1048.5" rx="24.8" ry="30.8" fill="#fff" opacity="0.45" filter="url(#b8)"/>
<ellipse cx="1980.0" cy="1048.5" rx="16.5" ry="20.5" fill="#fff" filter="url(#b1)"/>
<ellipse cx="1981.0" cy="1150.0" rx="16.5" ry="24.2" fill="#fff" opacity="0.30" filter="url(#b8)"/>
<ellipse cx="1981.0" cy="1150.0" rx="7.5" ry="11.0" fill="#fff" filter="url(#b1)"/>
<ellipse cx="2366.0" cy="841.0" rx="9.9" ry="13.2" fill="#fff" opacity="0.25" filter="url(#b8)"/>
<ellipse cx="2366.0" cy="841.0" rx="4.5" ry="6.0" fill="#fff" filter="url(#b1)"/>
<ellipse cx="2367.0" cy="942.0" rx="12.1" ry="15.4" fill="#fff" opacity="0.25" filter="url(#b8)"/>
<ellipse cx="2367.0" cy="942.0" rx="5.5" ry="7.0" fill="#fff" filter="url(#b1)"/>
<ellipse cx="2368.0" cy="1044.0" rx="21.0" ry="24.0" fill="#fff" opacity="0.30" filter="url(#b8)"/>
<ellipse cx="2368.0" cy="1044.0" rx="7.0" ry="8.0" fill="#fff" filter="url(#b1)"/>
<ellipse cx="2369.0" cy="1143.0" rx="12.1" ry="15.4" fill="#fff" opacity="0.25" filter="url(#b8)"/>
<ellipse cx="2369.0" cy="1143.0" rx="5.5" ry="7.0" fill="#fff" filter="url(#b1)"/>
</g>
<path d="M1991,1049 L2080,1024" stroke="#fff" stroke-width="6" stroke-linecap="round"/>
<path d="M2096,1017.5 L2072,1013 L2079,1033 Z" fill="#fff" stroke="#fff" stroke-width="2" stroke-linejoin="round"/>
<text x="1858.5" y="958.5" font-size="40.0" text-anchor="start" fill="#fff" textLength="97.0" lengthAdjust="spacingAndGlyphs" >(003)</text>
<path d="M1980.5,946.5 L1980.5,935.0 M1980.5,946.5 L1991.4,942.9 M1980.5,946.5 L1987.3,955.8 M1980.5,946.5 L1973.7,955.8 M1980.5,946.5 L1969.6,942.9 " stroke="#000" stroke-width="5.0" stroke-linecap="butt" fill="none"/>
<circle cx="1980.5" cy="946.5" r="4.0" fill="#000"/>
<text x="2249.5" y="1050.5" font-size="40.0" text-anchor="start" fill="#fff" textLength="96.0" lengthAdjust="spacingAndGlyphs" >(110)</text>
<path d="M2366.5,1046.5 L2366.5,1035.0 M2366.5,1046.5 L2377.4,1042.9 M2366.5,1046.5 L2373.3,1055.8 M2366.5,1046.5 L2359.7,1055.8 M2366.5,1046.5 L2355.6,1042.9 " stroke="#000" stroke-width="5.0" stroke-linecap="butt" fill="none"/>
<circle cx="2366.5" cy="1046.5" r="4.0" fill="#000"/>
<text x="2030.5" y="1072.0" font-size="40.0" text-anchor="start" fill="#fff" font-style="italic" textLength="19.0" lengthAdjust="spacingAndGlyphs" >q</text>
<text x="2050.0" y="1078.0" font-size="27.0" text-anchor="start" fill="#fff" textLength="12.5" lengthAdjust="spacingAndGlyphs" >1</text>
<g clip-path="url(#clipe)">
<rect x="1551" y="1202" width="866" height="373" fill="#0c0808"/>
<rect x="1720.3" y="1202.0" width="2.5" height="373.0" fill="#fff" opacity="0.38" filter="url(#b1)"/>
<rect x="1850.0" y="1202.0" width="2.5" height="373.0" fill="#fff" opacity="0.38" filter="url(#b1)"/>
<rect x="2110.3" y="1202.0" width="2.5" height="373.0" fill="#fff" opacity="0.38" filter="url(#b1)"/>
<rect x="2240.2" y="1202.0" width="2.5" height="373.0" fill="#fff" opacity="0.38" filter="url(#b1)"/>
<rect x="1591.0" y="1202" width="3" height="373" fill="#fff" opacity="0.12" filter="url(#b1)"/>
<ellipse cx="1592.5" cy="1250.3" rx="2.6" ry="6" fill="#fff" opacity="0.55" filter="url(#b1)"/>
<ellipse cx="1592.5" cy="1285.7" rx="2.6" ry="6" fill="#fff" opacity="0.55" filter="url(#b1)"/>
<ellipse cx="1592.5" cy="1351.3" rx="2.6" ry="6" fill="#fff" opacity="0.55" filter="url(#b1)"/>
<ellipse cx="1592.5" cy="1388.6" rx="2.6" ry="6" fill="#fff" opacity="0.55" filter="url(#b1)"/>
<ellipse cx="1592.5" cy="1454.2" rx="2.6" ry="6" fill="#fff" opacity="0.55" filter="url(#b1)"/>
<ellipse cx="1592.5" cy="1491.4" rx="2.6" ry="6" fill="#fff" opacity="0.55" filter="url(#b1)"/>
<ellipse cx="1592.5" cy="1551.7" rx="2.6" ry="6" fill="#fff" opacity="0.55" filter="url(#b1)"/>
<rect x="1980.0" y="1202" width="3" height="373" fill="#fff" opacity="0.12" filter="url(#b1)"/>
<ellipse cx="1981.5" cy="1250.3" rx="2.6" ry="6" fill="#fff" opacity="0.55" filter="url(#b1)"/>
<ellipse cx="1981.5" cy="1285.7" rx="2.6" ry="6" fill="#fff" opacity="0.55" filter="url(#b1)"/>
<ellipse cx="1981.5" cy="1351.3" rx="2.6" ry="6" fill="#fff" opacity="0.55" filter="url(#b1)"/>
<ellipse cx="1981.5" cy="1388.6" rx="2.6" ry="6" fill="#fff" opacity="0.55" filter="url(#b1)"/>
<ellipse cx="1981.5" cy="1454.2" rx="2.6" ry="6" fill="#fff" opacity="0.55" filter="url(#b1)"/>
<ellipse cx="1981.5" cy="1491.4" rx="2.6" ry="6" fill="#fff" opacity="0.55" filter="url(#b1)"/>
<ellipse cx="1981.5" cy="1551.7" rx="2.6" ry="6" fill="#fff" opacity="0.55" filter="url(#b1)"/>
<rect x="2368.3" y="1202" width="3" height="373" fill="#fff" opacity="0.12" filter="url(#b1)"/>
<ellipse cx="2369.8" cy="1250.3" rx="2.6" ry="6" fill="#fff" opacity="0.55" filter="url(#b1)"/>
<ellipse cx="2369.8" cy="1285.7" rx="2.6" ry="6" fill="#fff" opacity="0.55" filter="url(#b1)"/>
<ellipse cx="2369.8" cy="1351.3" rx="2.6" ry="6" fill="#fff" opacity="0.55" filter="url(#b1)"/>
<ellipse cx="2369.8" cy="1388.6" rx="2.6" ry="6" fill="#fff" opacity="0.55" filter="url(#b1)"/>
<ellipse cx="2369.8" cy="1454.2" rx="2.6" ry="6" fill="#fff" opacity="0.55" filter="url(#b1)"/>
<ellipse cx="2369.8" cy="1491.4" rx="2.6" ry="6" fill="#fff" opacity="0.55" filter="url(#b1)"/>
<ellipse cx="2369.8" cy="1551.7" rx="2.6" ry="6" fill="#fff" opacity="0.55" filter="url(#b1)"/>
<ellipse cx="1592.5" cy="1217.7" rx="10.0" ry="15.0" fill="#fff" opacity="0.25" filter="url(#b8)"/>
<ellipse cx="1592.5" cy="1217.7" rx="5.0" ry="7.5" fill="#fff" filter="url(#b1)"/>
<ellipse cx="1592.5" cy="1319.4" rx="12.0" ry="16.0" fill="#fff" opacity="0.30" filter="url(#b8)"/>
<ellipse cx="1592.5" cy="1319.4" rx="6.0" ry="8.0" fill="#fff" filter="url(#b1)"/>
<ellipse cx="1592.5" cy="1421.0" rx="22.0" ry="27.5" fill="#fff" opacity="0.45" filter="url(#b8)"/>
<ellipse cx="1592.5" cy="1421.0" rx="10.0" ry="12.5" fill="#fff" filter="url(#b1)"/>
<ellipse cx="1592.5" cy="1522.6" rx="12.0" ry="16.0" fill="#fff" opacity="0.30" filter="url(#b8)"/>
<ellipse cx="1592.5" cy="1522.6" rx="6.0" ry="8.0" fill="#fff" filter="url(#b1)"/>
<ellipse cx="1981.5" cy="1217.7" rx="11.0" ry="15.0" fill="#fff" opacity="0.25" filter="url(#b8)"/>
<ellipse cx="1981.5" cy="1217.7" rx="5.5" ry="7.5" fill="#fff" filter="url(#b1)"/>
<ellipse cx="1981.5" cy="1320.0" rx="8.0" ry="10.0" fill="#fff" opacity="0.20" filter="url(#b8)"/>
<ellipse cx="1981.5" cy="1320.0" rx="4.0" ry="5.0" fill="#fff" filter="url(#b1)"/>
<ellipse cx="1981.5" cy="1420.5" rx="24.2" ry="31.9" fill="#fff" opacity="0.45" filter="url(#b8)"/>
<ellipse cx="1981.5" cy="1420.5" rx="11.0" ry="14.5" fill="#fff" filter="url(#b1)"/>
<ellipse cx="1981.5" cy="1523.3" rx="13.0" ry="16.0" fill="#fff" opacity="0.30" filter="url(#b8)"/>
<ellipse cx="1981.5" cy="1523.3" rx="6.5" ry="8.0" fill="#fff" filter="url(#b1)"/>
<ellipse cx="2369.8" cy="1220.0" rx="10.0" ry="14.0" fill="#fff" opacity="0.25" filter="url(#b8)"/>
<ellipse cx="2369.8" cy="1220.0" rx="5.0" ry="7.0" fill="#fff" filter="url(#b1)"/>
<ellipse cx="2369.8" cy="1321.0" rx="12.0" ry="16.0" fill="#fff" opacity="0.30" filter="url(#b8)"/>
<ellipse cx="2369.8" cy="1321.0" rx="6.0" ry="8.0" fill="#fff" filter="url(#b1)"/>
<ellipse cx="2369.8" cy="1421.0" rx="30.0" ry="35.0" fill="#fff" opacity="0.50" filter="url(#b8)"/>
<ellipse cx="2369.8" cy="1421.0" rx="12.0" ry="14.0" fill="#fff" filter="url(#b1)"/>
<ellipse cx="2369.8" cy="1523.0" rx="12.0" ry="16.0" fill="#fff" opacity="0.30" filter="url(#b8)"/>
<ellipse cx="2369.8" cy="1523.0" rx="6.0" ry="8.0" fill="#fff" filter="url(#b1)"/>
<line x1="1581" y1="1408" x2="1604" y2="1437" stroke="#fff" stroke-width="2.5" opacity="0.8"/>
<line x1="2342" y1="1388.6" x2="2395" y2="1452.4" stroke="#fff" stroke-width="2.5" opacity="0.8"/>
</g>
<path d="M2054,1393.9 L2014,1393.9" stroke="#fff" stroke-width="7"/>
<path d="M2001,1393.9 L2019,1383.9 L2019,1403.9 Z" fill="#fff" stroke="#fff" stroke-width="2" stroke-linejoin="round"/>
<path d="M2054,1444.6 L2014,1444.6" stroke="#fff" stroke-width="7"/>
<path d="M2001,1444.6 L2019,1434.6 L2019,1454.6 Z" fill="#fff" stroke="#fff" stroke-width="2" stroke-linejoin="round"/>
<text x="1858.5" y="1328.5" font-size="40.0" text-anchor="start" fill="#fff" textLength="97.0" lengthAdjust="spacingAndGlyphs" >(003)</text>
<path d="M1985.0,1321.5 L1985.0,1311.0 M1985.0,1321.5 L1995.0,1318.3 M1985.0,1321.5 L1991.2,1330.0 M1985.0,1321.5 L1978.8,1330.0 M1985.0,1321.5 L1975.0,1318.3 " stroke="#000" stroke-width="4.2" stroke-linecap="butt" fill="none"/>
<circle cx="1985.0" cy="1321.5" r="3.4" fill="#000"/>
<text x="2249.5" y="1430.5" font-size="40.0" text-anchor="start" fill="#fff" textLength="96.0" lengthAdjust="spacingAndGlyphs" >(110)</text>
<path d="M2369.0,1422.0 L2369.0,1410.5 M2369.0,1422.0 L2379.9,1418.4 M2369.0,1422.0 L2375.8,1431.3 M2369.0,1422.0 L2362.2,1431.3 M2369.0,1422.0 L2358.1,1418.4 " stroke="#000" stroke-width="5.0" stroke-linecap="butt" fill="none"/>
<circle cx="2369.0" cy="1422.0" r="4.0" fill="#000"/>
<text x="2016.0" y="1479.0" font-size="40.0" text-anchor="start" fill="#fff" font-style="italic" textLength="19.0" lengthAdjust="spacingAndGlyphs" >q</text>
<text x="2036.0" y="1485.5" font-size="27.0" text-anchor="start" fill="#fff" textLength="14.0" lengthAdjust="spacingAndGlyphs" >2</text>
<text x="1478.0" y="853.2" font-size="44.0" text-anchor="start" fill="#000" textLength="53.0" lengthAdjust="spacingAndGlyphs" >(d)</text>
<text x="1483.5" y="1236.2" font-size="44.0" text-anchor="start" fill="#000" textLength="47.5" lengthAdjust="spacingAndGlyphs" >(e)</text>
<text x="326.5" y="853.1" font-size="44.0" text-anchor="start" fill="#000" textLength="48.5" lengthAdjust="spacingAndGlyphs" >(c)</text>
<clipPath id="clipc"><rect x="395" y="819" width="866" height="756"/></clipPath>
<g clip-path="url(#clipc)">
<rect x="395" y="819" width="866" height="756" fill="#b5b5b3"/>
<ellipse cx="600" cy="1120" rx="240" ry="140" fill="#d2d2d0" opacity="0.75" filter="url(#cbig)"/>
<ellipse cx="520" cy="1060" rx="160" ry="110" fill="#d6d6d4" opacity="0.50" filter="url(#cbig)"/>
<ellipse cx="700" cy="1290" rx="260" ry="60" fill="#cacac8" opacity="0.45" filter="url(#cbig)"/>
<ellipse cx="560" cy="1460" rx="200" ry="80" fill="#c4c4c2" opacity="0.35" filter="url(#cbig)"/>
<ellipse cx="950" cy="1100" rx="90" ry="150" fill="#a2a2a0" opacity="0.35" filter="url(#cbig)"/>
<ellipse cx="1190" cy="1220" rx="140" ry="260" fill="#747472" opacity="0.55" filter="url(#cbig)"/>
<ellipse cx="1130" cy="1500" rx="220" ry="120" fill="#7a7a78" opacity="0.45" filter="url(#cbig)"/>
<ellipse cx="420" cy="1550" rx="70" ry="70" fill="#4a4a4a" opacity="0.60" filter="url(#cbig)"/>
<ellipse cx="1080" cy="880" rx="200" ry="70" fill="#9a9a98" opacity="0.30" filter="url(#cbig)"/>
<rect x="395" y="819" width="866" height="756" fill="url(#topdark)"/>
<rect x="395" y="819" width="866" height="756" filter="url(#noise)" opacity="0.13"/>
<rect x="395" y="819" width="866" height="756" filter="url(#noise2)" opacity="0.13"/>
<path d="M396.0,819 V1575 M400.0,819 V1575 M407.0,819 V1575 M414.0,819 V1575 M418.0,819 V1575 M423.0,819 V1575 M430.0,819 V1575 M436.0,819 V1575 M443.0,819 V1575 M446.0,819 V1575 M453.0,819 V1575 M456.0,819 V1575 M462.0,819 V1575 M467.0,819 V1575 M474.0,819 V1575 M478.0,819 V1575 M482.0,819 V1575 M488.0,819 V1575 M495.0,819 V1575 M502.0,819 V1575 M508.0,819 V1575 M514.0,819 V1575 M518.0,819 V1575 M522.0,819 V1575 M526.0,819 V1575 M533.0,819 V1575 M539.0,819 V1575 M542.0,819 V1575 M545.0,819 V1575 M549.0,819 V1575 M556.0,819 V1575 M559.0,819 V1575 M564.0,819 V1575 M567.0,819 V1575 M572.0,819 V1575 M578.0,819 V1575 M585.0,819 V1575 M591.0,819 V1575 M597.0,819 V1575 M603.0,819 V1575 M610.0,819 V1575 M616.0,819 V1575 M620.0,819 V1575 M625.0,819 V1575 M628.0,819 V1575 M631.0,819 V1575 M635.0,819 V1575 M641.0,819 V1575 M645.0,819 V1575 M650.0,819 V1575 M656.0,819 V1575 M661.0,819 V1575 M667.0,819 V1575 M674.0,819 V1575 M680.0,819 V1575 M687.0,819 V1575 M692.0,819 V1575 M699.0,819 V1575 M706.0,819 V1575 M712.0,819 V1575 M719.0,819 V1575 M723.0,819 V1575 M728.0,819 V1575 M731.0,819 V1575 M736.0,819 V1575 M743.0,819 V1575 M747.0,819 V1575 M752.0,819 V1575 M759.0,819 V1575 M766.0,819 V1575 M773.0,819 V1575 M776.0,819 V1575 M780.0,819 V1575 M787.0,819 V1575 M792.0,819 V1575 M797.0,819 V1575 M800.0,819 V1575 M803.0,819 V1575 M809.0,819 V1575 M815.0,819 V1575 M818.0,819 V1575 M823.0,819 V1575 M826.0,819 V1575 M832.0,819 V1575 M836.0,819 V1575 M839.0,819 V1575 M844.0,819 V1575 M850.0,819 V1575 M856.0,819 V1575 M859.0,819 V1575 M862.0,819 V1575 M869.0,819 V1575 M876.0,819 V1575 M879.0,819 V1575 M885.0,819 V1575 M892.0,819 V1575 M897.0,819 V1575 M904.0,819 V1575 M909.0,819 V1575 M916.0,819 V1575 M920.0,819 V1575 M923.0,819 V1575 M928.0,819 V1575 M931.0,819 V1575 M934.0,819 V1575 M937.0,819 V1575 M944.0,819 V1575 M951.0,819 V1575 M954.0,819 V1575 M958.0,819 V1575 M964.0,819 V1575 M969.0,819 V1575 M976.0,819 V1575 M981.0,819 V1575 M985.0,819 V1575 M988.0,819 V1575 M993.0,819 V1575 M998.0,819 V1575 M1003.0,819 V1575 M1007.0,819 V1575 M1013.0,819 V1575 M1019.0,819 V1575 M1025.0,819 V1575 M1032.0,819 V1575 M1038.0,819 V1575 M1045.0,819 V1575 M1052.0,819 V1575 M1055.0,819 V1575 M1062.0,819 V1575 M1069.0,819 V1575 M1074.0,819 V1575 M1080.0,819 V1575 M1084.0,819 V1575 M1089.0,819 V1575 M1095.0,819 V1575 M1100.0,819 V1575 M1107.0,819 V1575 M1112.0,819 V1575 M1119.0,819 V1575 M1124.0,819 V1575 M1127.0,819 V1575 M1133.0,819 V1575 M1140.0,819 V1575 M1145.0,819 V1575 M1148.0,819 V1575 M1154.0,819 V1575 M1161.0,819 V1575 M1168.0,819 V1575 M1172.0,819 V1575 M1175.0,819 V1575 M1180.0,819 V1575 M1186.0,819 V1575 M1191.0,819 V1575 M1196.0,819 V1575 M1203.0,819 V1575 M1208.0,819 V1575 M1214.0,819 V1575 M1217.0,819 V1575 M1224.0,819 V1575 M1227.0,819 V1575 M1230.0,819 V1575 M1235.0,819 V1575 M1240.0,819 V1575 M1246.0,819 V1575 M1251.0,819 V1575 M1258.0,819 V1575" stroke="#ffffff" stroke-width="1" opacity="0.07"/>
<path d="M660.7,819.0 C653.8,823.0 632.5,835.1 619.3,843.2 C606.1,851.2 594.6,858.7 581.3,867.3 C568.1,875.9 553.7,886.3 539.9,894.9 C526.1,903.5 514.0,909.9 498.5,919.1 C483.0,928.3 464.0,939.8 446.8,950.1 C429.5,960.5 403.6,976.0 395.0,981.2" fill="none" stroke="#f2f2f2" stroke-width="2.7" opacity="0.28" stroke-linecap="round" transform="translate(1.2,3.2)" filter="url(#cb)"/>
<path d="M660.7,819.0 C653.8,823.0 632.5,835.1 619.3,843.2 C606.1,851.2 594.6,858.7 581.3,867.3 C568.1,875.9 553.7,886.3 539.9,894.9 C526.1,903.5 514.0,909.9 498.5,919.1 C483.0,928.3 464.0,939.8 446.8,950.1 C429.5,960.5 403.6,976.0 395.0,981.2" fill="none" stroke="#505050" stroke-width="4.5" opacity="0.80" stroke-linecap="round" filter="url(#cb)"/>
<path d="M833.2,819.0 C823.5,824.8 793.0,842.6 774.6,853.5 C756.2,864.4 740.1,873.6 722.8,884.6 C705.6,895.5 688.3,908.1 671.1,919.1 C653.8,930.0 636.5,940.9 619.3,950.1 C602.0,959.3 587.7,965.7 567.5,974.3 C547.4,982.9 521.5,992.7 498.5,1001.9 C475.5,1011.1 446.8,1022.6 429.5,1029.5 C412.3,1036.4 400.8,1041.0 395.0,1043.3" fill="none" stroke="#f2f2f2" stroke-width="2.7" opacity="0.28" stroke-linecap="round" transform="translate(1.2,3.2)" filter="url(#cb)"/>
<path d="M833.2,819.0 C823.5,824.8 793.0,842.6 774.6,853.5 C756.2,864.4 740.1,873.6 722.8,884.6 C705.6,895.5 688.3,908.1 671.1,919.1 C653.8,930.0 636.5,940.9 619.3,950.1 C602.0,959.3 587.7,965.7 567.5,974.3 C547.4,982.9 521.5,992.7 498.5,1001.9 C475.5,1011.1 446.8,1022.6 429.5,1029.5 C412.3,1036.4 400.8,1041.0 395.0,1043.3" fill="none" stroke="#505050" stroke-width="4.5" opacity="0.80" stroke-linecap="round" filter="url(#cb)"/>
<path d="M960.9,819.0 C952.9,823.6 929.3,837.4 912.6,846.6 C895.9,855.8 878.1,864.4 860.8,874.2 C843.6,884.0 826.3,895.5 809.1,905.3 C791.8,915.0 774.6,924.2 757.3,932.9 C740.1,941.5 725.7,949.0 705.6,957.0 C685.4,965.1 659.6,973.1 636.5,981.2 C613.5,989.2 590.5,997.3 567.5,1005.3 C544.5,1013.4 521.5,1021.4 498.5,1029.5 C475.5,1037.5 446.8,1047.3 429.5,1053.6 C412.3,1060.0 400.8,1065.1 395.0,1067.4" fill="none" stroke="#f2f2f2" stroke-width="2.4" opacity="0.28" stroke-linecap="round" transform="translate(1.2,3.2)" filter="url(#cb)"/>
<path d="M960.9,819.0 C952.9,823.6 929.3,837.4 912.6,846.6 C895.9,855.8 878.1,864.4 860.8,874.2 C843.6,884.0 826.3,895.5 809.1,905.3 C791.8,915.0 774.6,924.2 757.3,932.9 C740.1,941.5 725.7,949.0 705.6,957.0 C685.4,965.1 659.6,973.1 636.5,981.2 C613.5,989.2 590.5,997.3 567.5,1005.3 C544.5,1013.4 521.5,1021.4 498.5,1029.5 C475.5,1037.5 446.8,1047.3 429.5,1053.6 C412.3,1060.0 400.8,1065.1 395.0,1067.4" fill="none" stroke="#505050" stroke-width="4.0" opacity="0.80" stroke-linecap="round" filter="url(#cb)"/>
<path d="M912.6,905.3 C901.1,908.7 866.6,919.1 843.6,926.0 C820.6,932.9 797.6,939.2 774.6,946.7 C751.6,954.2 728.6,962.8 705.6,970.8 C682.6,978.9 659.6,986.9 636.5,995.0 C613.5,1003.0 590.5,1011.1 567.5,1019.1 C544.5,1027.2 521.5,1035.2 498.5,1043.3 C475.5,1051.3 446.8,1061.1 429.5,1067.4 C412.3,1073.8 400.8,1078.9 395.0,1081.2" fill="none" stroke="#f2f2f2" stroke-width="2.1" opacity="0.28" stroke-linecap="round" transform="translate(1.2,3.2)" filter="url(#cb)"/>
<path d="M912.6,905.3 C901.1,908.7 866.6,919.1 843.6,926.0 C820.6,932.9 797.6,939.2 774.6,946.7 C751.6,954.2 728.6,962.8 705.6,970.8 C682.6,978.9 659.6,986.9 636.5,995.0 C613.5,1003.0 590.5,1011.1 567.5,1019.1 C544.5,1027.2 521.5,1035.2 498.5,1043.3 C475.5,1051.3 446.8,1061.1 429.5,1067.4 C412.3,1073.8 400.8,1078.9 395.0,1081.2" fill="none" stroke="#505050" stroke-width="3.5" opacity="0.60" stroke-linecap="round" filter="url(#cb)"/>
<path d="M740.1,819.0 C731.4,822.5 705.6,831.7 688.3,839.7 C671.1,847.8 653.8,857.5 636.5,867.3 C619.3,877.1 602.0,888.6 584.8,898.4 C567.5,908.1 553.2,916.2 533.0,926.0 C512.9,935.7 487.0,944.9 464.0,957.0 C441.0,969.1 406.5,991.5 395.0,998.4" fill="none" stroke="#f2f2f2" stroke-width="2.0" opacity="0.28" stroke-linecap="round" transform="translate(1.2,3.2)" filter="url(#cb)"/>
<path d="M740.1,819.0 C731.4,822.5 705.6,831.7 688.3,839.7 C671.1,847.8 653.8,857.5 636.5,867.3 C619.3,877.1 602.0,888.6 584.8,898.4 C567.5,908.1 553.2,916.2 533.0,926.0 C512.9,935.7 487.0,944.9 464.0,957.0 C441.0,969.1 406.5,991.5 395.0,998.4" fill="none" stroke="#505050" stroke-width="3.0" opacity="0.50" stroke-linecap="round" filter="url(#cb)"/>
<path d="M439.9,819.0 C449.6,821.9 474.9,828.2 498.5,836.3 C522.1,844.3 552.6,858.1 581.3,867.3 C610.1,876.5 644.6,885.7 671.1,891.5 C697.5,897.2 717.1,898.4 740.1,901.8 C763.1,905.3 780.3,909.3 809.1,912.2 C837.8,915.0 883.8,917.3 912.6,919.1 C941.4,920.8 970.1,921.9 981.6,922.5" fill="none" stroke="#f2f2f2" stroke-width="2.4" opacity="0.28" stroke-linecap="round" transform="translate(1.2,3.2)" filter="url(#cb)"/>
<path d="M439.9,819.0 C449.6,821.9 474.9,828.2 498.5,836.3 C522.1,844.3 552.6,858.1 581.3,867.3 C610.1,876.5 644.6,885.7 671.1,891.5 C697.5,897.2 717.1,898.4 740.1,901.8 C763.1,905.3 780.3,909.3 809.1,912.2 C837.8,915.0 883.8,917.3 912.6,919.1 C941.4,920.8 970.1,921.9 981.6,922.5" fill="none" stroke="#505050" stroke-width="4.0" opacity="0.80" stroke-linecap="round" filter="url(#cb)"/>
<path d="M395.0,843.2 C406.5,844.9 441.0,850.1 464.0,853.5 C487.0,857.0 513.5,861.0 533.0,863.9 C552.6,866.7 564.1,867.9 581.3,870.8 C598.6,873.6 615.8,877.7 636.5,881.1 C657.2,884.6 682.6,888.6 705.6,891.5 C728.6,894.3 763.1,897.2 774.6,898.4" fill="none" stroke="#f2f2f2" stroke-width="2.1" opacity="0.28" stroke-linecap="round" transform="translate(1.2,3.2)" filter="url(#cb)"/>
<path d="M395.0,843.2 C406.5,844.9 441.0,850.1 464.0,853.5 C487.0,857.0 513.5,861.0 533.0,863.9 C552.6,866.7 564.1,867.9 581.3,870.8 C598.6,873.6 615.8,877.7 636.5,881.1 C657.2,884.6 682.6,888.6 705.6,891.5 C728.6,894.3 763.1,897.2 774.6,898.4" fill="none" stroke="#505050" stroke-width="3.5" opacity="0.80" stroke-linecap="round" filter="url(#cb)"/>
<path d="M395.0,877.7 C406.5,879.4 441.0,884.0 464.0,888.0 C487.0,892.0 510.0,897.2 533.0,901.8 C556.0,906.4 579.0,911.6 602.0,915.6 C625.0,919.6 648.0,922.5 671.1,926.0 C694.1,929.4 717.1,931.7 740.1,936.3 C763.1,940.9 786.1,947.2 809.1,953.6 C832.1,959.9 858.0,968.0 878.1,974.3 C898.2,980.6 921.2,988.7 929.9,991.5" fill="none" stroke="#f2f2f2" stroke-width="2.4" opacity="0.28" stroke-linecap="round" transform="translate(1.2,3.2)" filter="url(#cb)"/>
<path d="M395.0,877.7 C406.5,879.4 441.0,884.0 464.0,888.0 C487.0,892.0 510.0,897.2 533.0,901.8 C556.0,906.4 579.0,911.6 602.0,915.6 C625.0,919.6 648.0,922.5 671.1,926.0 C694.1,929.4 717.1,931.7 740.1,936.3 C763.1,940.9 786.1,947.2 809.1,953.6 C832.1,959.9 858.0,968.0 878.1,974.3 C898.2,980.6 921.2,988.7 929.9,991.5" fill="none" stroke="#505050" stroke-width="4.0" opacity="0.80" stroke-linecap="round" filter="url(#cb)"/>
<path d="M395.0,901.8 C406.5,902.4 441.0,903.5 464.0,905.3 C487.0,907.0 510.0,909.9 533.0,912.2 C556.0,914.5 579.0,916.2 602.0,919.1 C625.0,921.9 648.0,924.8 671.1,929.4 C694.1,934.0 717.1,940.9 740.1,946.7 C763.1,952.4 786.1,958.2 809.1,963.9 C832.1,969.7 866.6,978.3 878.1,981.2" fill="none" stroke="#f2f2f2" stroke-width="2.1" opacity="0.28" stroke-linecap="round" transform="translate(1.2,3.2)" filter="url(#cb)"/>
<path d="M395.0,901.8 C406.5,902.4 441.0,903.5 464.0,905.3 C487.0,907.0 510.0,909.9 533.0,912.2 C556.0,914.5 579.0,916.2 602.0,919.1 C625.0,921.9 648.0,924.8 671.1,929.4 C694.1,934.0 717.1,940.9 740.1,946.7 C763.1,952.4 786.1,958.2 809.1,963.9 C832.1,969.7 866.6,978.3 878.1,981.2" fill="none" stroke="#505050" stroke-width="3.5" opacity="0.60" stroke-linecap="round" filter="url(#cb)"/>
<path d="M533.0,819.0 C544.5,820.7 579.0,826.5 602.0,829.4 C625.0,832.2 648.0,834.0 671.1,836.3 C694.1,838.6 717.1,842.6 740.1,843.2 C763.1,843.7 786.1,842.0 809.1,839.7 C832.1,837.4 860.8,832.8 878.1,829.4 C895.3,825.9 906.8,820.7 912.6,819.0" fill="none" stroke="#f2f2f2" stroke-width="2.0" opacity="0.28" stroke-linecap="round" transform="translate(1.2,3.2)" filter="url(#cb)"/>
<path d="M533.0,819.0 C544.5,820.7 579.0,826.5 602.0,829.4 C625.0,832.2 648.0,834.0 671.1,836.3 C694.1,838.6 717.1,842.6 740.1,843.2 C763.1,843.7 786.1,842.0 809.1,839.7 C832.1,837.4 860.8,832.8 878.1,829.4 C895.3,825.9 906.8,820.7 912.6,819.0" fill="none" stroke="#505050" stroke-width="3.0" opacity="0.55" stroke-linecap="round" filter="url(#cb)"/>
<path d="M636.5,819.0 C648.0,821.3 682.6,828.2 705.6,832.8 C728.6,837.4 751.6,842.0 774.6,846.6 C797.6,851.2 820.6,857.0 843.6,860.4 C866.6,863.9 889.6,865.6 912.6,867.3 C935.6,869.0 958.6,869.0 981.6,870.8 C1004.6,872.5 1039.1,876.5 1050.6,877.7" fill="none" stroke="#f2f2f2" stroke-width="2.0" opacity="0.28" stroke-linecap="round" transform="translate(1.2,3.2)" filter="url(#cb)"/>
<path d="M636.5,819.0 C648.0,821.3 682.6,828.2 705.6,832.8 C728.6,837.4 751.6,842.0 774.6,846.6 C797.6,851.2 820.6,857.0 843.6,860.4 C866.6,863.9 889.6,865.6 912.6,867.3 C935.6,869.0 958.6,869.0 981.6,870.8 C1004.6,872.5 1039.1,876.5 1050.6,877.7" fill="none" stroke="#505050" stroke-width="3.0" opacity="0.50" stroke-linecap="round" filter="url(#cb)"/>
<path d="M395.0,932.9 C406.5,933.4 441.0,934.6 464.0,936.3 C487.0,938.0 510.0,940.9 533.0,943.2 C556.0,945.5 579.0,947.2 602.0,950.1 C625.0,953.0 648.0,957.6 671.1,960.5 C694.1,963.4 717.1,963.9 740.1,967.4 C763.1,970.8 791.8,977.2 809.1,981.2 C826.3,985.2 837.8,989.8 843.6,991.5" fill="none" stroke="#f2f2f2" stroke-width="2.0" opacity="0.28" stroke-linecap="round" transform="translate(1.2,3.2)" filter="url(#cb)"/>
<path d="M395.0,932.9 C406.5,933.4 441.0,934.6 464.0,936.3 C487.0,938.0 510.0,940.9 533.0,943.2 C556.0,945.5 579.0,947.2 602.0,950.1 C625.0,953.0 648.0,957.6 671.1,960.5 C694.1,963.4 717.1,963.9 740.1,967.4 C763.1,970.8 791.8,977.2 809.1,981.2 C826.3,985.2 837.8,989.8 843.6,991.5" fill="none" stroke="#505050" stroke-width="3.0" opacity="0.45" stroke-linecap="round" filter="url(#cb)"/>
<path d="M1070.0,819.0 C1072.1,821.5 1076.3,828.8 1082.7,834.3 C1089.1,839.8 1097.6,847.4 1108.2,852.1 C1118.8,856.8 1133.7,861.0 1146.4,862.3 C1159.1,863.6 1174.0,862.3 1184.6,859.8 C1195.2,857.2 1203.3,852.1 1210.1,847.0 C1216.9,841.9 1222.0,833.9 1225.4,829.2 C1228.7,824.5 1229.6,820.7 1230.4,819.0" fill="none" stroke="#f2f2f2" stroke-width="3.0" opacity="0.28" stroke-linecap="round" transform="translate(1.2,3.2)" filter="url(#cb)"/>
<path d="M1070.0,819.0 C1072.1,821.5 1076.3,828.8 1082.7,834.3 C1089.1,839.8 1097.6,847.4 1108.2,852.1 C1118.8,856.8 1133.7,861.0 1146.4,862.3 C1159.1,863.6 1174.0,862.3 1184.6,859.8 C1195.2,857.2 1203.3,852.1 1210.1,847.0 C1216.9,841.9 1222.0,833.9 1225.4,829.2 C1228.7,824.5 1229.6,820.7 1230.4,819.0" fill="none" stroke="#505050" stroke-width="5.0" opacity="0.80" stroke-linecap="round" filter="url(#cb)"/>
<path d="M1090.4,819.0 C1095.4,821.1 1111.6,828.7 1120.9,831.7 C1130.3,834.8 1136.6,836.8 1146.4,837.3 C1156.2,837.8 1169.7,836.9 1179.5,834.8 C1189.3,832.7 1199.5,827.2 1205.0,824.6 C1210.5,822.0 1211.3,819.9 1212.6,819.0" fill="none" stroke="#f2f2f2" stroke-width="4.8" opacity="0.28" stroke-linecap="round" transform="translate(1.2,3.2)" filter="url(#cb)"/>
<path d="M1090.4,819.0 C1095.4,821.1 1111.6,828.7 1120.9,831.7 C1130.3,834.8 1136.6,836.8 1146.4,837.3 C1156.2,837.8 1169.7,836.9 1179.5,834.8 C1189.3,832.7 1199.5,827.2 1205.0,824.6 C1210.5,822.0 1211.3,819.9 1212.6,819.0" fill="none" stroke="#505050" stroke-width="8.0" opacity="0.85" stroke-linecap="round" filter="url(#cb)"/>
<path d="M968.1,819.0 C974.5,825.4 993.6,845.3 1006.3,857.2 C1019.0,869.1 1031.8,881.4 1044.5,890.3 C1057.2,899.2 1072.1,905.6 1082.7,910.7 C1093.3,915.8 1101.8,917.1 1108.2,920.9 C1114.6,924.7 1114.6,928.5 1120.9,933.6 C1127.3,938.7 1136.6,947.4 1146.4,951.5 C1156.2,955.5 1168.9,957.8 1179.5,957.8 C1190.1,957.8 1200.7,956.8 1210.1,951.5 C1219.4,946.1 1229.2,937.4 1235.5,926.0 C1241.9,914.5 1245.7,900.5 1248.3,882.7 C1250.8,864.8 1250.4,829.6 1250.8,819.0" fill="none" stroke="#f2f2f2" stroke-width="3.0" opacity="0.28" stroke-linecap="round" transform="translate(1.2,3.2)" filter="url(#cb)"/>
<path d="M968.1,819.0 C974.5,825.4 993.6,845.3 1006.3,857.2 C1019.0,869.1 1031.8,881.4 1044.5,890.3 C1057.2,899.2 1072.1,905.6 1082.7,910.7 C1093.3,915.8 1101.8,917.1 1108.2,920.9 C1114.6,924.7 1114.6,928.5 1120.9,933.6 C1127.3,938.7 1136.6,947.4 1146.4,951.5 C1156.2,955.5 1168.9,957.8 1179.5,957.8 C1190.1,957.8 1200.7,956.8 1210.1,951.5 C1219.4,946.1 1229.2,937.4 1235.5,926.0 C1241.9,914.5 1245.7,900.5 1248.3,882.7 C1250.8,864.8 1250.4,829.6 1250.8,819.0" fill="none" stroke="#505050" stroke-width="5.0" opacity="0.80" stroke-linecap="round" filter="url(#cb)"/>
<path d="M1108.2,919.6 C1112.4,921.5 1125.2,927.0 1133.7,931.1 C1142.1,935.1 1150.6,938.7 1159.1,943.8 C1167.6,948.9 1176.1,954.8 1184.6,961.6 C1193.1,968.4 1200.7,976.1 1210.1,984.6 C1219.4,993.1 1232.1,1004.1 1240.6,1012.6 C1249.1,1021.1 1257.6,1031.7 1261.0,1035.5" fill="none" stroke="#f2f2f2" stroke-width="2.7" opacity="0.28" stroke-linecap="round" transform="translate(1.2,3.2)" filter="url(#cb)"/>
<path d="M1108.2,919.6 C1112.4,921.5 1125.2,927.0 1133.7,931.1 C1142.1,935.1 1150.6,938.7 1159.1,943.8 C1167.6,948.9 1176.1,954.8 1184.6,961.6 C1193.1,968.4 1200.7,976.1 1210.1,984.6 C1219.4,993.1 1232.1,1004.1 1240.6,1012.6 C1249.1,1021.1 1257.6,1031.7 1261.0,1035.5" fill="none" stroke="#505050" stroke-width="4.5" opacity="0.80" stroke-linecap="round" filter="url(#cb)"/>
<path d="M649.7,827.9 C668.8,829.2 734.6,833.2 764.3,835.6 C794.0,837.9 808.9,840.0 828.0,841.9 C847.1,843.8 862.0,844.9 878.9,847.0 C895.9,849.1 912.9,852.1 929.9,854.7 C946.9,857.2 963.8,859.8 980.8,862.3 C997.8,864.8 1014.8,867.0 1031.8,869.9 C1048.8,872.9 1065.7,875.9 1082.7,880.1 C1099.7,884.4 1120.9,889.5 1133.7,895.4 C1146.4,901.4 1152.8,907.3 1159.1,915.8 C1165.5,924.3 1168.5,934.9 1171.9,946.4 C1175.3,957.8 1176.5,971.8 1179.5,984.6 C1182.5,997.3 1186.7,1007.9 1189.7,1022.8 C1192.7,1037.6 1195.2,1056.7 1197.3,1073.7 C1199.5,1090.7 1201.2,1104.1 1202.4,1124.7 C1203.7,1145.2 1204.5,1184.9 1205.0,1197.0" fill="none" stroke="url(#fadeL)" stroke-width="4.5" opacity="0.80" stroke-linecap="round" filter="url(#cb)"/>
<path d="M649.7,895.4 C668.8,895.0 734.6,893.3 764.3,892.9 C794.0,892.4 800.4,892.9 828.0,892.9 C855.6,892.9 895.9,892.9 929.9,892.9 C963.8,892.9 1006.3,892.4 1031.8,892.9 C1057.2,893.3 1067.9,893.3 1082.7,895.4 C1097.6,897.5 1110.3,901.4 1120.9,905.6 C1131.5,909.8 1139.2,914.1 1146.4,920.9 C1153.6,927.7 1161.2,942.1 1164.2,946.4" fill="none" stroke="url(#fadeL)" stroke-width="4.0" opacity="0.80" stroke-linecap="round" filter="url(#cb)"/>
<path d="M649.7,903.1 C668.8,905.8 734.6,914.9 764.3,919.6 C794.0,924.3 808.9,927.5 828.0,931.1 C847.1,934.7 862.0,937.0 878.9,941.3 C895.9,945.5 912.9,950.6 929.9,956.5 C946.9,962.5 963.8,969.3 980.8,976.9 C997.8,984.6 1014.8,992.6 1031.8,1002.4 C1048.8,1012.2 1070.0,1025.7 1082.7,1035.5 C1095.4,1045.3 1099.7,1050.4 1108.2,1061.0 C1116.7,1071.6 1125.2,1086.4 1133.7,1099.2 C1142.1,1111.9 1150.6,1124.7 1159.1,1137.4 C1167.6,1150.1 1178.2,1165.7 1184.6,1175.6 C1191.0,1185.5 1195.2,1193.4 1197.3,1197.0" fill="none" stroke="url(#fadeL)" stroke-width="4.5" opacity="0.80" stroke-linecap="round" filter="url(#cb)"/>
<path d="M649.7,933.6 C668.8,937.4 734.6,950.2 764.3,956.5 C794.0,962.9 808.9,967.2 828.0,971.8 C847.1,976.5 862.0,979.5 878.9,984.6 C895.9,989.7 912.9,995.2 929.9,1002.4 C946.9,1009.6 963.8,1018.9 980.8,1027.9 C997.8,1036.8 1014.8,1044.8 1031.8,1055.9 C1048.8,1066.9 1067.9,1080.5 1082.7,1094.1 C1097.6,1107.7 1110.3,1123.8 1120.9,1137.4 C1131.5,1151.0 1140.0,1165.7 1146.4,1175.6 C1152.8,1185.5 1157.0,1193.4 1159.1,1197.0" fill="none" stroke="url(#fadeL)" stroke-width="4.5" opacity="0.80" stroke-linecap="round" filter="url(#cb)"/>
<path d="M996.1,910.7 C992.7,915.8 981.3,931.1 975.7,941.3 C970.2,951.5 965.5,961.2 963.0,971.8 C960.5,982.4 959.6,994.8 960.5,1004.9 C961.3,1015.1 962.6,1026.0 968.1,1033.0 C973.6,1040.0 984.6,1044.6 993.6,1047.0 C1002.5,1049.3 1011.8,1048.9 1021.6,1047.0 C1031.3,1045.1 1047.1,1037.4 1052.1,1035.5" fill="none" stroke="#f2f2f2" stroke-width="3.0" opacity="0.28" stroke-linecap="round" transform="translate(1.2,3.2)" filter="url(#cb)"/>
<path d="M996.1,910.7 C992.7,915.8 981.3,931.1 975.7,941.3 C970.2,951.5 965.5,961.2 963.0,971.8 C960.5,982.4 959.6,994.8 960.5,1004.9 C961.3,1015.1 962.6,1026.0 968.1,1033.0 C973.6,1040.0 984.6,1044.6 993.6,1047.0 C1002.5,1049.3 1011.8,1048.9 1021.6,1047.0 C1031.3,1045.1 1047.1,1037.4 1052.1,1035.5" fill="none" stroke="#505050" stroke-width="5.0" opacity="0.80" stroke-linecap="round" filter="url(#cb)"/>
<path d="M1047.1,1038.1 C1048.3,1044.0 1052.8,1063.5 1054.7,1073.7 C1056.6,1083.9 1058.1,1088.6 1058.5,1099.2 C1058.9,1109.8 1058.3,1124.7 1057.2,1137.4 C1056.2,1150.1 1053.4,1165.7 1052.1,1175.6 C1050.9,1185.5 1050.0,1193.4 1049.6,1197.0" fill="none" stroke="#f2f2f2" stroke-width="2.4" opacity="0.28" stroke-linecap="round" transform="translate(1.2,3.2)" filter="url(#cb)"/>
<path d="M1047.1,1038.1 C1048.3,1044.0 1052.8,1063.5 1054.7,1073.7 C1056.6,1083.9 1058.1,1088.6 1058.5,1099.2 C1058.9,1109.8 1058.3,1124.7 1057.2,1137.4 C1056.2,1150.1 1053.4,1165.7 1052.1,1175.6 C1050.9,1185.5 1050.0,1193.4 1049.6,1197.0" fill="none" stroke="#505050" stroke-width="4.0" opacity="0.80" stroke-linecap="round" filter="url(#cb)"/>
<path d="M1082.7,1197.0 C1091.2,1192.6 1116.7,1179.2 1133.7,1170.5 C1150.6,1161.8 1169.7,1152.7 1184.6,1145.0 C1199.5,1137.4 1210.1,1131.0 1222.8,1124.7 C1235.5,1118.3 1254.6,1109.8 1261.0,1106.8" fill="none" stroke="#f2f2f2" stroke-width="2.7" opacity="0.28" stroke-linecap="round" transform="translate(1.2,3.2)" filter="url(#cb)"/>
<path d="M1082.7,1197.0 C1091.2,1192.6 1116.7,1179.2 1133.7,1170.5 C1150.6,1161.8 1169.7,1152.7 1184.6,1145.0 C1199.5,1137.4 1210.1,1131.0 1222.8,1124.7 C1235.5,1118.3 1254.6,1109.8 1261.0,1106.8" fill="none" stroke="#505050" stroke-width="4.5" opacity="0.80" stroke-linecap="round" filter="url(#cb)"/>
<path d="M1261.0,997.3 C1258.9,1001.5 1253.4,1012.2 1248.3,1022.8 C1243.2,1033.4 1236.8,1049.1 1230.4,1061.0 C1224.1,1072.9 1217.7,1083.5 1210.1,1094.1 C1202.4,1104.7 1193.1,1115.3 1184.6,1124.7 C1176.1,1134.0 1167.6,1141.6 1159.1,1150.1 C1150.6,1158.6 1141.3,1167.8 1133.7,1175.6 C1126.0,1183.4 1116.7,1193.4 1113.3,1197.0" fill="none" stroke="#f2f2f2" stroke-width="2.7" opacity="0.28" stroke-linecap="round" transform="translate(1.2,3.2)" filter="url(#cb)"/>
<path d="M1261.0,997.3 C1258.9,1001.5 1253.4,1012.2 1248.3,1022.8 C1243.2,1033.4 1236.8,1049.1 1230.4,1061.0 C1224.1,1072.9 1217.7,1083.5 1210.1,1094.1 C1202.4,1104.7 1193.1,1115.3 1184.6,1124.7 C1176.1,1134.0 1167.6,1141.6 1159.1,1150.1 C1150.6,1158.6 1141.3,1167.8 1133.7,1175.6 C1126.0,1183.4 1116.7,1193.4 1113.3,1197.0" fill="none" stroke="#505050" stroke-width="4.5" opacity="0.80" stroke-linecap="round" filter="url(#cb)"/>
<path d="M991.0,920.9 C993.6,914.5 1000.4,895.4 1006.3,882.7 C1012.2,869.9 1021.2,855.1 1026.7,844.5 C1032.2,833.9 1037.3,823.2 1039.4,819.0" fill="none" stroke="#f2f2f2" stroke-width="2.4" opacity="0.28" stroke-linecap="round" transform="translate(1.2,3.2)" filter="url(#cb)"/>
<path d="M991.0,920.9 C993.6,914.5 1000.4,895.4 1006.3,882.7 C1012.2,869.9 1021.2,855.1 1026.7,844.5 C1032.2,833.9 1037.3,823.2 1039.4,819.0" fill="none" stroke="#505050" stroke-width="4.0" opacity="0.80" stroke-linecap="round" filter="url(#cb)"/>
<path d="M649.7,938.7 C668.8,939.4 734.6,941.3 764.3,942.5 C794.0,943.8 804.7,944.9 828.0,946.4 C851.3,947.8 878.9,948.9 904.4,951.5 C929.9,954.0 955.4,956.5 980.8,961.6 C1006.3,966.7 1036.0,974.8 1057.2,982.0 C1078.5,989.2 1091.2,999.0 1108.2,1004.9 C1125.2,1010.9 1142.1,1014.7 1159.1,1017.7 C1176.1,1020.6 1193.1,1021.5 1210.1,1022.8 C1227.0,1024.0 1252.5,1024.9 1261.0,1025.3" fill="none" stroke="url(#fadeL)" stroke-width="3.5" opacity="0.60" stroke-linecap="round" filter="url(#cb)"/>
<path d="M1120.9,1197.0 C1127.3,1190.5 1144.3,1169.8 1159.1,1157.8 C1174.0,1145.7 1193.1,1136.5 1210.1,1124.7 C1227.0,1112.8 1252.5,1092.8 1261.0,1086.4" fill="none" stroke="#f2f2f2" stroke-width="2.4" opacity="0.28" stroke-linecap="round" transform="translate(1.2,3.2)" filter="url(#cb)"/>
<path d="M1120.9,1197.0 C1127.3,1190.5 1144.3,1169.8 1159.1,1157.8 C1174.0,1145.7 1193.1,1136.5 1210.1,1124.7 C1227.0,1112.8 1252.5,1092.8 1261.0,1086.4" fill="none" stroke="#505050" stroke-width="4.0" opacity="0.80" stroke-linecap="round" filter="url(#cb)"/>
<path d="M828.0,819.0 C834.4,820.7 853.5,826.6 866.2,829.2 C878.9,831.7 891.7,833.9 904.4,834.3 C917.1,834.7 932.0,833.4 942.6,831.7 C953.2,830.0 961.7,826.2 968.1,824.1 C974.5,822.0 978.7,819.8 980.8,819.0" fill="none" stroke="#f2f2f2" stroke-width="2.1" opacity="0.28" stroke-linecap="round" transform="translate(1.2,3.2)" filter="url(#cb)"/>
<path d="M828.0,819.0 C834.4,820.7 853.5,826.6 866.2,829.2 C878.9,831.7 891.7,833.9 904.4,834.3 C917.1,834.7 932.0,833.4 942.6,831.7 C953.2,830.0 961.7,826.2 968.1,824.1 C974.5,822.0 978.7,819.8 980.8,819.0" fill="none" stroke="#505050" stroke-width="3.5" opacity="0.60" stroke-linecap="round" filter="url(#cb)"/>
<path d="M1261.0,915.8 C1256.8,923.4 1246.2,948.1 1235.5,961.6 C1224.9,975.2 1210.1,987.1 1197.3,997.3 C1184.6,1007.5 1171.9,1014.3 1159.1,1022.8 C1146.4,1031.3 1133.7,1039.8 1120.9,1048.2 C1108.2,1056.7 1089.1,1069.5 1082.7,1073.7" fill="none" stroke="#f2f2f2" stroke-width="2.1" opacity="0.28" stroke-linecap="round" transform="translate(1.2,3.2)" filter="url(#cb)"/>
<path d="M1261.0,915.8 C1256.8,923.4 1246.2,948.1 1235.5,961.6 C1224.9,975.2 1210.1,987.1 1197.3,997.3 C1184.6,1007.5 1171.9,1014.3 1159.1,1022.8 C1146.4,1031.3 1133.7,1039.8 1120.9,1048.2 C1108.2,1056.7 1089.1,1069.5 1082.7,1073.7" fill="none" stroke="#505050" stroke-width="3.5" opacity="0.50" stroke-linecap="round" filter="url(#cb)"/>
<path d="M1146.4,1197.0 C1150.6,1191.3 1163.4,1172.8 1171.9,1162.9 C1180.4,1152.9 1186.7,1145.9 1197.3,1137.4 C1207.9,1128.9 1224.9,1118.3 1235.5,1111.9 C1246.2,1105.6 1256.8,1101.3 1261.0,1099.2" fill="none" stroke="#f2f2f2" stroke-width="2.4" opacity="0.28" stroke-linecap="round" transform="translate(1.2,3.2)" filter="url(#cb)"/>
<path d="M1146.4,1197.0 C1150.6,1191.3 1163.4,1172.8 1171.9,1162.9 C1180.4,1152.9 1186.7,1145.9 1197.3,1137.4 C1207.9,1128.9 1224.9,1118.3 1235.5,1111.9 C1246.2,1105.6 1256.8,1101.3 1261.0,1099.2" fill="none" stroke="#505050" stroke-width="4.0" opacity="0.80" stroke-linecap="round" filter="url(#cb)"/>
<path d="M1057.2,1124.7 C1063.6,1126.8 1082.7,1132.3 1095.4,1137.4 C1108.2,1142.5 1120.9,1148.9 1133.7,1155.2 C1146.4,1161.6 1161.2,1168.6 1171.9,1175.6 C1182.5,1182.6 1193.1,1193.4 1197.3,1197.0" fill="none" stroke="#f2f2f2" stroke-width="2.1" opacity="0.28" stroke-linecap="round" transform="translate(1.2,3.2)" filter="url(#cb)"/>
<path d="M1057.2,1124.7 C1063.6,1126.8 1082.7,1132.3 1095.4,1137.4 C1108.2,1142.5 1120.9,1148.9 1133.7,1155.2 C1146.4,1161.6 1161.2,1168.6 1171.9,1175.6 C1182.5,1182.6 1193.1,1193.4 1197.3,1197.0" fill="none" stroke="#505050" stroke-width="3.5" opacity="0.60" stroke-linecap="round" filter="url(#cb)"/>
<path d="M866.2,1157.8 C872.6,1154.4 889.6,1143.3 904.4,1137.4 C919.3,1131.4 938.4,1125.9 955.4,1122.1 C972.3,1118.3 989.3,1117.0 1006.3,1114.5 C1023.3,1111.9 1040.3,1109.4 1057.2,1106.8 C1074.2,1104.3 1091.2,1101.1 1108.2,1099.2 C1125.2,1097.3 1144.3,1096.2 1159.1,1095.4 C1174.0,1094.5 1191.0,1094.3 1197.3,1094.1" fill="none" stroke="#f6f6f6" stroke-width="3.5" opacity="0.90" stroke-linecap="round" filter="url(#cb)"/>
<path d="M777.1,924.7 C785.5,926.2 811.0,930.4 828.0,933.6 C845.0,936.8 862.0,939.1 878.9,943.8 C895.9,948.5 912.9,954.8 929.9,961.6 C946.9,968.4 966.0,976.9 980.8,984.6 C995.7,992.2 1012.7,1003.7 1019.0,1007.5" fill="none" stroke="#f6f6f6" stroke-width="2.0" opacity="0.40" stroke-linecap="round" filter="url(#cb)"/>
<path d="M777.1,962.9 C785.5,964.8 811.0,970.3 828.0,974.4 C845.0,978.4 862.0,981.6 878.9,987.1 C895.9,992.6 912.9,999.8 929.9,1007.5 C946.9,1015.1 963.8,1024.0 980.8,1033.0 C997.8,1041.9 1023.3,1056.3 1031.8,1061.0" fill="none" stroke="#f6f6f6" stroke-width="2.0" opacity="0.40" stroke-linecap="round" filter="url(#cb)"/>
<path d="M395.0,1088.2 C412.3,1084.7 464.0,1074.9 498.5,1067.4 C533.0,1060.0 567.5,1049.6 602.0,1043.3 C636.5,1037.0 671.1,1032.4 705.6,1029.5 C740.1,1026.6 774.6,1024.3 809.1,1026.0 C843.6,1027.8 878.1,1032.9 912.6,1039.8 C947.1,1046.7 998.9,1062.8 1016.1,1067.4" fill="none" stroke="#f2f2f2" stroke-width="2.0" opacity="0.28" stroke-linecap="round" transform="translate(1.2,3.2)" filter="url(#cb)"/>
<path d="M395.0,1088.2 C412.3,1084.7 464.0,1074.9 498.5,1067.4 C533.0,1060.0 567.5,1049.6 602.0,1043.3 C636.5,1037.0 671.1,1032.4 705.6,1029.5 C740.1,1026.6 774.6,1024.3 809.1,1026.0 C843.6,1027.8 878.1,1032.9 912.6,1039.8 C947.1,1046.7 998.9,1062.8 1016.1,1067.4" fill="none" stroke="#505050" stroke-width="3.0" opacity="0.30" stroke-linecap="round" filter="url(#cb)"/>
<path d="M395.0,1108.9 C406.5,1112.3 441.0,1122.7 464.0,1129.6 C487.0,1136.5 510.0,1144.5 533.0,1150.3 C556.0,1156.0 579.0,1159.5 602.0,1164.1 C625.0,1168.7 659.6,1175.6 671.1,1177.9" fill="none" stroke="#f2f2f2" stroke-width="2.0" opacity="0.28" stroke-linecap="round" transform="translate(1.2,3.2)" filter="url(#cb)"/>
<path d="M395.0,1108.9 C406.5,1112.3 441.0,1122.7 464.0,1129.6 C487.0,1136.5 510.0,1144.5 533.0,1150.3 C556.0,1156.0 579.0,1159.5 602.0,1164.1 C625.0,1168.7 659.6,1175.6 671.1,1177.9" fill="none" stroke="#505050" stroke-width="3.0" opacity="0.25" stroke-linecap="round" filter="url(#cb)"/>
<path d="M395.0,922.5 C400.8,922.8 418.0,923.4 429.5,924.2 C441.0,925.1 453.7,926.8 464.0,927.7 C474.4,928.6 487.0,929.1 491.6,929.4" fill="none" stroke="#f6f6f6" stroke-width="3.5" opacity="0.85" stroke-linecap="round" filter="url(#cb)"/>
<path d="M757.3,953.6 C765.9,954.7 788.9,957.0 809.1,960.5 C829.2,963.9 855.1,968.0 878.1,974.3 C901.1,980.6 935.6,994.4 947.1,998.4" fill="none" stroke="#f6f6f6" stroke-width="2.0" opacity="0.40" stroke-linecap="round" filter="url(#cb)"/>
<path d="M802.2,922.5 C802.8,934.0 805.3,968.5 805.6,991.5 C805.9,1014.5 803.9,1026.3 803.9,1060.5 C803.9,1094.8 805.3,1174.4 805.6,1197.2" fill="none" stroke="#f6f6f6" stroke-width="2.5" opacity="0.45" stroke-linecap="round" filter="url(#cb)"/>
<path d="M395.0,1012.2 C406.5,1009.9 441.0,1003.6 464.0,998.4 C487.0,993.3 521.5,984.1 533.0,981.2" fill="none" stroke="#f6f6f6" stroke-width="2.0" opacity="0.40" stroke-linecap="round" filter="url(#cb)"/>
<path d="M395.0,1417.8 C403.6,1413.2 429.5,1398.9 446.8,1390.2 C464.0,1381.6 481.3,1373.0 498.5,1366.1 C515.8,1359.2 533.0,1352.9 550.3,1348.8 C567.5,1344.8 581.9,1343.1 602.0,1341.9 C622.2,1340.8 659.6,1341.9 671.1,1341.9" fill="none" stroke="#f2f2f2" stroke-width="2.4" opacity="0.28" stroke-linecap="round" transform="translate(1.2,3.2)" filter="url(#cb)"/>
<path d="M395.0,1417.8 C403.6,1413.2 429.5,1398.9 446.8,1390.2 C464.0,1381.6 481.3,1373.0 498.5,1366.1 C515.8,1359.2 533.0,1352.9 550.3,1348.8 C567.5,1344.8 581.9,1343.1 602.0,1341.9 C622.2,1340.8 659.6,1341.9 671.1,1341.9" fill="none" stroke="#505050" stroke-width="4.0" opacity="0.80" stroke-linecap="round" filter="url(#cb)"/>
<path d="M426.1,1500.7 C439.9,1493.8 479.5,1471.9 508.9,1459.2 C538.2,1446.6 569.3,1433.9 602.0,1424.7 C634.8,1415.5 671.1,1410.9 705.6,1404.0 C740.1,1397.1 786.1,1388.8 809.1,1383.3 C832.1,1377.9 837.8,1373.3 843.6,1371.3" fill="none" stroke="#f2f2f2" stroke-width="2.7" opacity="0.28" stroke-linecap="round" transform="translate(1.2,3.2)" filter="url(#cb)"/>
<path d="M426.1,1500.7 C439.9,1493.8 479.5,1471.9 508.9,1459.2 C538.2,1446.6 569.3,1433.9 602.0,1424.7 C634.8,1415.5 671.1,1410.9 705.6,1404.0 C740.1,1397.1 786.1,1388.8 809.1,1383.3 C832.1,1377.9 837.8,1373.3 843.6,1371.3" fill="none" stroke="#505050" stroke-width="4.5" opacity="0.80" stroke-linecap="round" filter="url(#cb)"/>
<path d="M395.0,1421.3 C412.3,1426.5 464.0,1442.6 498.5,1452.3 C533.0,1462.1 567.5,1469.6 602.0,1480.0 C636.5,1490.3 676.8,1505.3 705.6,1514.5 C734.3,1523.7 751.6,1527.1 774.6,1535.2 C797.6,1543.2 826.3,1556.1 843.6,1562.8 C860.8,1569.4 872.3,1573.1 878.1,1575.2" fill="none" stroke="#f2f2f2" stroke-width="2.4" opacity="0.28" stroke-linecap="round" transform="translate(1.2,3.2)" filter="url(#cb)"/>
<path d="M395.0,1421.3 C412.3,1426.5 464.0,1442.6 498.5,1452.3 C533.0,1462.1 567.5,1469.6 602.0,1480.0 C636.5,1490.3 676.8,1505.3 705.6,1514.5 C734.3,1523.7 751.6,1527.1 774.6,1535.2 C797.6,1543.2 826.3,1556.1 843.6,1562.8 C860.8,1569.4 872.3,1573.1 878.1,1575.2" fill="none" stroke="#505050" stroke-width="4.0" opacity="0.80" stroke-linecap="round" filter="url(#cb)"/>
<path d="M395.0,1459.2 C412.3,1461.6 464.0,1467.9 498.5,1473.1 C533.0,1478.2 567.5,1484.6 602.0,1490.3 C636.5,1496.1 671.1,1501.8 705.6,1507.6 C740.1,1513.3 786.1,1520.8 809.1,1524.8 C832.1,1528.8 837.8,1530.6 843.6,1531.7" fill="none" stroke="#f2f2f2" stroke-width="2.1" opacity="0.28" stroke-linecap="round" transform="translate(1.2,3.2)" filter="url(#cb)"/>
<path d="M395.0,1459.2 C412.3,1461.6 464.0,1467.9 498.5,1473.1 C533.0,1478.2 567.5,1484.6 602.0,1490.3 C636.5,1496.1 671.1,1501.8 705.6,1507.6 C740.1,1513.3 786.1,1520.8 809.1,1524.8 C832.1,1528.8 837.8,1530.6 843.6,1531.7" fill="none" stroke="#505050" stroke-width="3.5" opacity="0.60" stroke-linecap="round" filter="url(#cb)"/>
<path d="M395.0,1528.3 C400.8,1527.1 418.0,1521.9 429.5,1521.4 C441.0,1520.8 446.8,1521.9 464.0,1524.8 C481.3,1527.7 510.0,1534.0 533.0,1538.6 C556.0,1543.2 579.0,1547.8 602.0,1552.4 C625.0,1557.0 653.8,1562.4 671.1,1566.2 C688.3,1570.0 699.8,1573.7 705.6,1575.2" fill="none" stroke="#f2f2f2" stroke-width="4.2" opacity="0.28" stroke-linecap="round" transform="translate(1.2,3.2)" filter="url(#cb)"/>
<path d="M395.0,1528.3 C400.8,1527.1 418.0,1521.9 429.5,1521.4 C441.0,1520.8 446.8,1521.9 464.0,1524.8 C481.3,1527.7 510.0,1534.0 533.0,1538.6 C556.0,1543.2 579.0,1547.8 602.0,1552.4 C625.0,1557.0 653.8,1562.4 671.1,1566.2 C688.3,1570.0 699.8,1573.7 705.6,1575.2" fill="none" stroke="#505050" stroke-width="7.0" opacity="0.85" stroke-linecap="round" filter="url(#cb)"/>
<path d="M395.0,1562.8 C406.5,1561.6 441.0,1555.9 464.0,1555.9 C487.0,1555.9 515.8,1559.5 533.0,1562.8 C550.3,1566.0 561.8,1573.1 567.5,1575.2" fill="none" stroke="#f2f2f2" stroke-width="3.0" opacity="0.28" stroke-linecap="round" transform="translate(1.2,3.2)" filter="url(#cb)"/>
<path d="M395.0,1562.8 C406.5,1561.6 441.0,1555.9 464.0,1555.9 C487.0,1555.9 515.8,1559.5 533.0,1562.8 C550.3,1566.0 561.8,1573.1 567.5,1575.2" fill="none" stroke="#505050" stroke-width="5.0" opacity="0.70" stroke-linecap="round" filter="url(#cb)"/>
<path d="M602.0,1355.7 C619.3,1358.0 671.1,1366.1 705.6,1369.5 C740.1,1373.0 786.1,1375.0 809.1,1376.4 C832.1,1377.9 837.8,1377.9 843.6,1378.2" fill="none" stroke="#f2f2f2" stroke-width="2.0" opacity="0.28" stroke-linecap="round" transform="translate(1.2,3.2)" filter="url(#cb)"/>
<path d="M602.0,1355.7 C619.3,1358.0 671.1,1366.1 705.6,1369.5 C740.1,1373.0 786.1,1375.0 809.1,1376.4 C832.1,1377.9 837.8,1377.9 843.6,1378.2" fill="none" stroke="#505050" stroke-width="3.0" opacity="0.45" stroke-linecap="round" filter="url(#cb)"/>
<path d="M805.6,1197.0 C805.9,1202.8 806.2,1214.3 807.4,1231.5 C808.5,1248.8 809.9,1282.1 812.5,1300.5 C815.1,1318.9 820.0,1330.4 822.9,1341.9 C825.8,1353.4 828.6,1364.9 829.8,1369.5" fill="none" stroke="#f6f6f6" stroke-width="3.0" opacity="0.60" stroke-linecap="round" filter="url(#cb)"/>
<path d="M395.0,1293.6 C412.3,1297.1 464.0,1308.6 498.5,1314.3 C533.0,1320.1 584.8,1325.8 602.0,1328.1" fill="none" stroke="#f6f6f6" stroke-width="2.0" opacity="0.40" stroke-linecap="round" filter="url(#cb)"/>
<path d="M498.5,1435.1 C515.8,1435.7 567.5,1436.8 602.0,1438.5 C636.5,1440.3 688.3,1444.3 705.6,1445.4" fill="none" stroke="#f6f6f6" stroke-width="2.0" opacity="0.35" stroke-linecap="round" filter="url(#cb)"/>
<path d="M395.0,1207.4 C412.3,1210.2 458.3,1218.9 498.5,1224.6 C538.8,1230.4 596.3,1237.3 636.5,1241.9 C676.8,1246.5 705.6,1250.5 740.1,1252.2 C774.6,1253.9 809.1,1253.9 843.6,1252.2 C878.1,1250.5 912.6,1246.5 947.1,1241.9 C981.6,1237.3 1021.9,1230.4 1050.6,1224.6 C1079.4,1218.9 1102.4,1212.0 1119.6,1207.4 C1136.9,1202.8 1148.4,1198.7 1154.1,1197.0" fill="none" stroke="#f2f2f2" stroke-width="2.1" opacity="0.28" stroke-linecap="round" transform="translate(1.2,3.2)" filter="url(#cb)"/>
<path d="M395.0,1207.4 C412.3,1210.2 458.3,1218.9 498.5,1224.6 C538.8,1230.4 596.3,1237.3 636.5,1241.9 C676.8,1246.5 705.6,1250.5 740.1,1252.2 C774.6,1253.9 809.1,1253.9 843.6,1252.2 C878.1,1250.5 912.6,1246.5 947.1,1241.9 C981.6,1237.3 1021.9,1230.4 1050.6,1224.6 C1079.4,1218.9 1102.4,1212.0 1119.6,1207.4 C1136.9,1202.8 1148.4,1198.7 1154.1,1197.0" fill="none" stroke="#505050" stroke-width="3.5" opacity="0.55" stroke-linecap="round" filter="url(#cb)"/>
<path d="M395.0,1238.4 C412.3,1242.4 464.0,1255.7 498.5,1262.6 C533.0,1269.5 567.5,1275.8 602.0,1279.8 C636.5,1283.8 671.1,1285.6 705.6,1286.7 C740.1,1287.9 774.6,1287.9 809.1,1286.7 C843.6,1285.6 878.1,1285.0 912.6,1279.8 C947.1,1274.6 987.4,1263.7 1016.1,1255.7 C1044.9,1247.6 1065.0,1239.0 1085.1,1231.5 C1105.3,1224.0 1122.5,1216.6 1136.9,1210.8 C1151.3,1205.1 1165.6,1199.3 1171.4,1197.0" fill="none" stroke="#f2f2f2" stroke-width="2.7" opacity="0.28" stroke-linecap="round" transform="translate(1.2,3.2)" filter="url(#cb)"/>
<path d="M395.0,1238.4 C412.3,1242.4 464.0,1255.7 498.5,1262.6 C533.0,1269.5 567.5,1275.8 602.0,1279.8 C636.5,1283.8 671.1,1285.6 705.6,1286.7 C740.1,1287.9 774.6,1287.9 809.1,1286.7 C843.6,1285.6 878.1,1285.0 912.6,1279.8 C947.1,1274.6 987.4,1263.7 1016.1,1255.7 C1044.9,1247.6 1065.0,1239.0 1085.1,1231.5 C1105.3,1224.0 1122.5,1216.6 1136.9,1210.8 C1151.3,1205.1 1165.6,1199.3 1171.4,1197.0" fill="none" stroke="#505050" stroke-width="4.5" opacity="0.80" stroke-linecap="round" filter="url(#cb)"/>
<path d="M395.0,1276.4 C412.3,1280.4 464.0,1294.2 498.5,1300.5 C533.0,1306.8 567.5,1311.4 602.0,1314.3 C636.5,1317.2 671.1,1317.2 705.6,1317.8 C740.1,1318.3 774.6,1319.5 809.1,1317.8 C843.6,1316.0 878.1,1313.2 912.6,1307.4 C947.1,1301.7 987.4,1291.3 1016.1,1283.3 C1044.9,1275.2 1062.1,1267.7 1085.1,1259.1 C1108.1,1250.5 1136.9,1239.6 1154.1,1231.5 C1171.4,1223.5 1180.0,1216.6 1188.7,1210.8 C1197.3,1205.1 1203.0,1199.3 1205.9,1197.0" fill="none" stroke="#f2f2f2" stroke-width="2.7" opacity="0.28" stroke-linecap="round" transform="translate(1.2,3.2)" filter="url(#cb)"/>
<path d="M395.0,1276.4 C412.3,1280.4 464.0,1294.2 498.5,1300.5 C533.0,1306.8 567.5,1311.4 602.0,1314.3 C636.5,1317.2 671.1,1317.2 705.6,1317.8 C740.1,1318.3 774.6,1319.5 809.1,1317.8 C843.6,1316.0 878.1,1313.2 912.6,1307.4 C947.1,1301.7 987.4,1291.3 1016.1,1283.3 C1044.9,1275.2 1062.1,1267.7 1085.1,1259.1 C1108.1,1250.5 1136.9,1239.6 1154.1,1231.5 C1171.4,1223.5 1180.0,1216.6 1188.7,1210.8 C1197.3,1205.1 1203.0,1199.3 1205.9,1197.0" fill="none" stroke="#505050" stroke-width="4.5" opacity="0.80" stroke-linecap="round" filter="url(#cb)"/>
<path d="M395.0,1314.3 C412.3,1316.6 464.0,1324.1 498.5,1328.1 C533.0,1332.2 567.5,1335.6 602.0,1338.5 C636.5,1341.4 671.1,1344.2 705.6,1345.4 C740.1,1346.5 774.6,1347.1 809.1,1345.4 C843.6,1343.7 878.1,1340.8 912.6,1335.0 C947.1,1329.3 987.4,1319.5 1016.1,1310.9 C1044.9,1302.2 1062.1,1293.0 1085.1,1283.3 C1108.1,1273.5 1134.0,1263.1 1154.1,1252.2 C1174.3,1241.3 1194.4,1226.9 1205.9,1217.7 C1217.4,1208.5 1220.3,1200.5 1223.2,1197.0" fill="none" stroke="#f2f2f2" stroke-width="2.4" opacity="0.28" stroke-linecap="round" transform="translate(1.2,3.2)" filter="url(#cb)"/>
<path d="M395.0,1314.3 C412.3,1316.6 464.0,1324.1 498.5,1328.1 C533.0,1332.2 567.5,1335.6 602.0,1338.5 C636.5,1341.4 671.1,1344.2 705.6,1345.4 C740.1,1346.5 774.6,1347.1 809.1,1345.4 C843.6,1343.7 878.1,1340.8 912.6,1335.0 C947.1,1329.3 987.4,1319.5 1016.1,1310.9 C1044.9,1302.2 1062.1,1293.0 1085.1,1283.3 C1108.1,1273.5 1134.0,1263.1 1154.1,1252.2 C1174.3,1241.3 1194.4,1226.9 1205.9,1217.7 C1217.4,1208.5 1220.3,1200.5 1223.2,1197.0" fill="none" stroke="#505050" stroke-width="4.0" opacity="0.80" stroke-linecap="round" filter="url(#cb)"/>
<path d="M395.0,1348.8 C412.3,1348.8 464.0,1348.3 498.5,1348.8 C533.0,1349.4 567.5,1351.1 602.0,1352.3 C636.5,1353.4 671.1,1355.2 705.6,1355.7 C740.1,1356.3 774.6,1356.3 809.1,1355.7 C843.6,1355.2 878.1,1354.6 912.6,1352.3 C947.1,1350.0 987.4,1346.0 1016.1,1341.9 C1044.9,1337.9 1062.1,1335.0 1085.1,1328.1 C1108.1,1321.2 1134.0,1312.0 1154.1,1300.5 C1174.3,1289.0 1193.3,1271.8 1205.9,1259.1 C1218.6,1246.5 1224.3,1235.0 1230.1,1224.6 C1235.8,1214.3 1238.7,1201.6 1240.4,1197.0" fill="none" stroke="#f2f2f2" stroke-width="2.7" opacity="0.28" stroke-linecap="round" transform="translate(1.2,3.2)" filter="url(#cb)"/>
<path d="M395.0,1348.8 C412.3,1348.8 464.0,1348.3 498.5,1348.8 C533.0,1349.4 567.5,1351.1 602.0,1352.3 C636.5,1353.4 671.1,1355.2 705.6,1355.7 C740.1,1356.3 774.6,1356.3 809.1,1355.7 C843.6,1355.2 878.1,1354.6 912.6,1352.3 C947.1,1350.0 987.4,1346.0 1016.1,1341.9 C1044.9,1337.9 1062.1,1335.0 1085.1,1328.1 C1108.1,1321.2 1134.0,1312.0 1154.1,1300.5 C1174.3,1289.0 1193.3,1271.8 1205.9,1259.1 C1218.6,1246.5 1224.3,1235.0 1230.1,1224.6 C1235.8,1214.3 1238.7,1201.6 1240.4,1197.0" fill="none" stroke="#505050" stroke-width="4.5" opacity="0.80" stroke-linecap="round" filter="url(#cb)"/>
<path d="M878.1,1310.9 C895.3,1308.0 952.9,1301.1 981.6,1293.6 C1010.4,1286.1 1027.6,1275.2 1050.6,1266.0 C1073.6,1256.8 1099.5,1247.6 1119.6,1238.4 C1139.8,1229.2 1159.9,1217.7 1171.4,1210.8 C1182.9,1203.9 1185.8,1199.3 1188.7,1197.0" fill="none" stroke="#f2f2f2" stroke-width="2.1" opacity="0.28" stroke-linecap="round" transform="translate(1.2,3.2)" filter="url(#cb)"/>
<path d="M878.1,1310.9 C895.3,1308.0 952.9,1301.1 981.6,1293.6 C1010.4,1286.1 1027.6,1275.2 1050.6,1266.0 C1073.6,1256.8 1099.5,1247.6 1119.6,1238.4 C1139.8,1229.2 1159.9,1217.7 1171.4,1210.8 C1182.9,1203.9 1185.8,1199.3 1188.7,1197.0" fill="none" stroke="#505050" stroke-width="3.5" opacity="0.60" stroke-linecap="round" filter="url(#cb)"/>
<path d="M912.6,1328.1 C929.9,1327.5 987.4,1328.1 1016.1,1324.7 C1044.9,1321.2 1062.1,1315.5 1085.1,1307.4 C1108.1,1299.4 1135.2,1287.9 1154.1,1276.4 C1173.1,1264.9 1188.7,1251.6 1199.0,1238.4 C1209.4,1225.2 1213.4,1203.9 1216.3,1197.0" fill="none" stroke="#f2f2f2" stroke-width="2.1" opacity="0.28" stroke-linecap="round" transform="translate(1.2,3.2)" filter="url(#cb)"/>
<path d="M912.6,1328.1 C929.9,1327.5 987.4,1328.1 1016.1,1324.7 C1044.9,1321.2 1062.1,1315.5 1085.1,1307.4 C1108.1,1299.4 1135.2,1287.9 1154.1,1276.4 C1173.1,1264.9 1188.7,1251.6 1199.0,1238.4 C1209.4,1225.2 1213.4,1203.9 1216.3,1197.0" fill="none" stroke="#505050" stroke-width="3.5" opacity="0.60" stroke-linecap="round" filter="url(#cb)"/>
<path d="M624.2,1366.4 C645.5,1365.7 721.9,1363.6 751.6,1362.6 C781.3,1361.5 789.8,1361.1 802.5,1360.0 C815.3,1359.0 806.8,1356.6 828.0,1356.2 C849.2,1355.8 895.9,1357.0 929.9,1357.5 C963.8,1357.9 1002.1,1358.5 1031.8,1358.7 C1061.5,1359.0 1087.0,1359.2 1108.2,1358.7 C1129.4,1358.3 1144.3,1357.3 1159.1,1356.2 C1174.0,1355.1 1191.0,1353.0 1197.3,1352.4" fill="none" stroke="url(#fadeL)" stroke-width="4.5" opacity="0.80" stroke-linecap="round" filter="url(#cb)"/>
<path d="M1179.5,1197.0 C1179.9,1203.4 1182.5,1222.5 1182.0,1235.2 C1181.6,1247.9 1179.9,1262.0 1177.0,1273.4 C1174.0,1284.9 1171.4,1295.5 1164.2,1304.0 C1157.0,1312.5 1145.1,1319.7 1133.7,1324.4 C1122.2,1329.0 1108.2,1330.3 1095.4,1332.0 C1082.7,1333.7 1072.1,1334.1 1057.2,1334.5 C1042.4,1335.0 1014.8,1334.5 1006.3,1334.5" fill="none" stroke="#f2f2f2" stroke-width="2.7" opacity="0.28" stroke-linecap="round" transform="translate(1.2,3.2)" filter="url(#cb)"/>
<path d="M1179.5,1197.0 C1179.9,1203.4 1182.5,1222.5 1182.0,1235.2 C1181.6,1247.9 1179.9,1262.0 1177.0,1273.4 C1174.0,1284.9 1171.4,1295.5 1164.2,1304.0 C1157.0,1312.5 1145.1,1319.7 1133.7,1324.4 C1122.2,1329.0 1108.2,1330.3 1095.4,1332.0 C1082.7,1333.7 1072.1,1334.1 1057.2,1334.5 C1042.4,1335.0 1014.8,1334.5 1006.3,1334.5" fill="none" stroke="#505050" stroke-width="4.5" opacity="0.80" stroke-linecap="round" filter="url(#cb)"/>
<path d="M1197.3,1197.0 C1198.2,1205.5 1202.9,1231.0 1202.4,1247.9 C1202.0,1264.9 1198.6,1284.0 1194.8,1298.9 C1191.0,1313.7 1185.4,1327.8 1179.5,1337.1 C1173.6,1346.4 1168.9,1350.7 1159.1,1354.9 C1149.4,1359.2 1135.8,1361.1 1120.9,1362.6 C1106.1,1364.0 1078.5,1363.6 1070.0,1363.8" fill="none" stroke="#f2f2f2" stroke-width="2.4" opacity="0.28" stroke-linecap="round" transform="translate(1.2,3.2)" filter="url(#cb)"/>
<path d="M1197.3,1197.0 C1198.2,1205.5 1202.9,1231.0 1202.4,1247.9 C1202.0,1264.9 1198.6,1284.0 1194.8,1298.9 C1191.0,1313.7 1185.4,1327.8 1179.5,1337.1 C1173.6,1346.4 1168.9,1350.7 1159.1,1354.9 C1149.4,1359.2 1135.8,1361.1 1120.9,1362.6 C1106.1,1364.0 1078.5,1363.6 1070.0,1363.8" fill="none" stroke="#505050" stroke-width="4.0" opacity="0.80" stroke-linecap="round" filter="url(#cb)"/>
<path d="M1225.4,1197.0 C1225.8,1205.5 1228.3,1231.0 1227.9,1247.9 C1227.5,1264.9 1225.8,1284.0 1222.8,1298.9 C1219.8,1313.7 1215.2,1326.5 1210.1,1337.1 C1205.0,1347.7 1196.5,1354.1 1192.2,1362.6 C1188.0,1371.1 1185.9,1379.5 1184.6,1388.0 C1183.3,1396.5 1185.4,1407.1 1184.6,1413.5 C1183.7,1419.9 1180.4,1424.1 1179.5,1426.2" fill="none" stroke="#f2f2f2" stroke-width="2.7" opacity="0.28" stroke-linecap="round" transform="translate(1.2,3.2)" filter="url(#cb)"/>
<path d="M1225.4,1197.0 C1225.8,1205.5 1228.3,1231.0 1227.9,1247.9 C1227.5,1264.9 1225.8,1284.0 1222.8,1298.9 C1219.8,1313.7 1215.2,1326.5 1210.1,1337.1 C1205.0,1347.7 1196.5,1354.1 1192.2,1362.6 C1188.0,1371.1 1185.9,1379.5 1184.6,1388.0 C1183.3,1396.5 1185.4,1407.1 1184.6,1413.5 C1183.7,1419.9 1180.4,1424.1 1179.5,1426.2" fill="none" stroke="#505050" stroke-width="4.5" opacity="0.80" stroke-linecap="round" filter="url(#cb)"/>
<path d="M624.2,1402.0 C647.6,1401.6 730.4,1399.7 764.3,1399.5 C798.3,1399.3 800.4,1400.6 828.0,1400.8 C855.6,1401.0 895.9,1400.3 929.9,1400.8 C963.8,1401.2 1006.3,1402.5 1031.8,1403.3 C1057.2,1404.2 1065.7,1404.2 1082.7,1405.9 C1099.7,1407.6 1116.7,1410.1 1133.7,1413.5 C1150.6,1416.9 1167.6,1421.6 1184.6,1426.2 C1201.6,1430.9 1222.8,1437.3 1235.5,1441.5 C1248.3,1445.8 1256.8,1450.0 1261.0,1451.7" fill="none" stroke="url(#fadeL)" stroke-width="4.5" opacity="0.80" stroke-linecap="round" filter="url(#cb)"/>
<path d="M624.2,1441.5 C647.6,1442.2 730.4,1444.5 764.3,1445.3 C798.3,1446.2 808.9,1446.0 828.0,1446.6 C847.1,1447.3 862.0,1447.9 878.9,1449.2 C895.9,1450.4 912.9,1452.1 929.9,1454.3 C946.9,1456.4 963.8,1458.9 980.8,1461.9 C997.8,1464.9 1014.8,1469.5 1031.8,1472.1 C1048.8,1474.6 1074.2,1476.3 1082.7,1477.2" fill="none" stroke="url(#fadeL)" stroke-width="4.5" opacity="0.80" stroke-linecap="round" filter="url(#cb)"/>
<path d="M912.1,1413.5 C915.0,1409.7 922.7,1396.9 929.9,1390.6 C937.1,1384.2 946.9,1380.4 955.4,1375.3 C963.8,1370.2 976.6,1362.6 980.8,1360.0" fill="none" stroke="#f2f2f2" stroke-width="2.7" opacity="0.28" stroke-linecap="round" transform="translate(1.2,3.2)" filter="url(#cb)"/>
<path d="M912.1,1413.5 C915.0,1409.7 922.7,1396.9 929.9,1390.6 C937.1,1384.2 946.9,1380.4 955.4,1375.3 C963.8,1370.2 976.6,1362.6 980.8,1360.0" fill="none" stroke="#505050" stroke-width="4.5" opacity="0.80" stroke-linecap="round" filter="url(#cb)"/>
<path d="M1057.2,1451.7 C1057.9,1447.5 1058.9,1434.7 1061.1,1426.2 C1063.2,1417.8 1066.4,1408.4 1070.0,1400.8 C1073.6,1393.1 1078.5,1385.5 1082.7,1380.4 C1087.0,1375.3 1093.3,1371.9 1095.4,1370.2" fill="none" stroke="#f2f2f2" stroke-width="3.0" opacity="0.28" stroke-linecap="round" transform="translate(1.2,3.2)" filter="url(#cb)"/>
<path d="M1057.2,1451.7 C1057.9,1447.5 1058.9,1434.7 1061.1,1426.2 C1063.2,1417.8 1066.4,1408.4 1070.0,1400.8 C1073.6,1393.1 1078.5,1385.5 1082.7,1380.4 C1087.0,1375.3 1093.3,1371.9 1095.4,1370.2" fill="none" stroke="#505050" stroke-width="5.0" opacity="0.70" stroke-linecap="round" filter="url(#cb)"/>
<path d="M1006.3,1477.2 C1014.8,1481.4 1044.5,1494.2 1057.2,1502.7 C1070.0,1511.1 1076.3,1516.1 1082.7,1528.1 C1089.1,1540.2 1093.3,1567.2 1095.4,1575.0" fill="none" stroke="#f2f2f2" stroke-width="2.7" opacity="0.28" stroke-linecap="round" transform="translate(1.2,3.2)" filter="url(#cb)"/>
<path d="M1006.3,1477.2 C1014.8,1481.4 1044.5,1494.2 1057.2,1502.7 C1070.0,1511.1 1076.3,1516.1 1082.7,1528.1 C1089.1,1540.2 1093.3,1567.2 1095.4,1575.0" fill="none" stroke="#505050" stroke-width="4.5" opacity="0.80" stroke-linecap="round" filter="url(#cb)"/>
<path d="M1031.8,1477.2 C1040.3,1480.6 1067.9,1489.1 1082.7,1497.6 C1097.6,1506.1 1112.4,1515.2 1120.9,1528.1 C1129.4,1541.0 1131.5,1567.2 1133.7,1575.0" fill="none" stroke="#f2f2f2" stroke-width="2.7" opacity="0.28" stroke-linecap="round" transform="translate(1.2,3.2)" filter="url(#cb)"/>
<path d="M1031.8,1477.2 C1040.3,1480.6 1067.9,1489.1 1082.7,1497.6 C1097.6,1506.1 1112.4,1515.2 1120.9,1528.1 C1129.4,1541.0 1131.5,1567.2 1133.7,1575.0" fill="none" stroke="#505050" stroke-width="4.5" opacity="0.80" stroke-linecap="round" filter="url(#cb)"/>
<path d="M955.4,1502.7 C963.8,1505.2 993.6,1511.6 1006.3,1517.9 C1019.0,1524.3 1026.7,1531.4 1031.8,1540.9 C1036.9,1550.4 1036.0,1569.3 1036.9,1575.0" fill="none" stroke="#f2f2f2" stroke-width="2.4" opacity="0.28" stroke-linecap="round" transform="translate(1.2,3.2)" filter="url(#cb)"/>
<path d="M955.4,1502.7 C963.8,1505.2 993.6,1511.6 1006.3,1517.9 C1019.0,1524.3 1026.7,1531.4 1031.8,1540.9 C1036.9,1550.4 1036.0,1569.3 1036.9,1575.0" fill="none" stroke="#505050" stroke-width="4.0" opacity="0.80" stroke-linecap="round" filter="url(#cb)"/>
<path d="M878.9,1515.4 C891.7,1517.1 934.1,1521.3 955.4,1525.6 C976.6,1529.8 995.7,1532.6 1006.3,1540.9 C1016.9,1549.1 1016.9,1569.3 1019.0,1575.0" fill="none" stroke="#f2f2f2" stroke-width="2.1" opacity="0.28" stroke-linecap="round" transform="translate(1.2,3.2)" filter="url(#cb)"/>
<path d="M878.9,1515.4 C891.7,1517.1 934.1,1521.3 955.4,1525.6 C976.6,1529.8 995.7,1532.6 1006.3,1540.9 C1016.9,1549.1 1016.9,1569.3 1019.0,1575.0" fill="none" stroke="#505050" stroke-width="3.5" opacity="0.60" stroke-linecap="round" filter="url(#cb)"/>
<path d="M1261.0,1464.4 C1258.9,1470.8 1252.5,1489.9 1248.3,1502.7 C1244.0,1515.4 1241.9,1528.8 1235.5,1540.9 C1229.2,1552.9 1214.3,1569.3 1210.1,1575.0" fill="none" stroke="#f2f2f2" stroke-width="2.7" opacity="0.28" stroke-linecap="round" transform="translate(1.2,3.2)" filter="url(#cb)"/>
<path d="M1261.0,1464.4 C1258.9,1470.8 1252.5,1489.9 1248.3,1502.7 C1244.0,1515.4 1241.9,1528.8 1235.5,1540.9 C1229.2,1552.9 1214.3,1569.3 1210.1,1575.0" fill="none" stroke="#505050" stroke-width="4.5" opacity="0.80" stroke-linecap="round" filter="url(#cb)"/>
<path d="M1255.9,1482.3 C1252.5,1489.1 1242.3,1511.1 1235.5,1523.0 C1228.7,1534.9 1221.5,1544.9 1215.2,1553.6 C1208.8,1562.3 1200.3,1571.4 1197.3,1575.0" fill="none" stroke="#f2f2f2" stroke-width="2.1" opacity="0.28" stroke-linecap="round" transform="translate(1.2,3.2)" filter="url(#cb)"/>
<path d="M1255.9,1482.3 C1252.5,1489.1 1242.3,1511.1 1235.5,1523.0 C1228.7,1534.9 1221.5,1544.9 1215.2,1553.6 C1208.8,1562.3 1200.3,1571.4 1197.3,1575.0" fill="none" stroke="#505050" stroke-width="3.5" opacity="0.60" stroke-linecap="round" filter="url(#cb)"/>
<path d="M1108.2,1446.6 C1116.7,1447.0 1142.1,1448.3 1159.1,1449.2 C1176.1,1450.0 1193.1,1450.4 1210.1,1451.7 C1227.0,1453.0 1252.5,1456.0 1261.0,1456.8" fill="none" stroke="#f2f2f2" stroke-width="2.4" opacity="0.28" stroke-linecap="round" transform="translate(1.2,3.2)" filter="url(#cb)"/>
<path d="M1108.2,1446.6 C1116.7,1447.0 1142.1,1448.3 1159.1,1449.2 C1176.1,1450.0 1193.1,1450.4 1210.1,1451.7 C1227.0,1453.0 1252.5,1456.0 1261.0,1456.8" fill="none" stroke="#505050" stroke-width="4.0" opacity="0.80" stroke-linecap="round" filter="url(#cb)"/>
<path d="M624.2,1474.6 C647.6,1476.3 730.4,1482.3 764.3,1484.8 C798.3,1487.4 808.9,1487.8 828.0,1489.9 C847.1,1492.0 862.0,1494.2 878.9,1497.6 C895.9,1501.0 912.9,1505.2 929.9,1510.3 C946.9,1515.4 963.8,1520.9 980.8,1528.1 C997.8,1535.3 1019.0,1545.8 1031.8,1553.6 C1044.5,1561.4 1053.0,1571.4 1057.2,1575.0" fill="none" stroke="url(#fadeL)" stroke-width="3.5" opacity="0.60" stroke-linecap="round" filter="url(#cb)"/>
<path d="M1133.7,1464.4 C1140.0,1468.7 1161.2,1479.3 1171.9,1489.9 C1182.5,1500.5 1191.0,1513.9 1197.3,1528.1 C1203.7,1542.3 1207.9,1567.2 1210.1,1575.0" fill="none" stroke="#f2f2f2" stroke-width="2.1" opacity="0.28" stroke-linecap="round" transform="translate(1.2,3.2)" filter="url(#cb)"/>
<path d="M1133.7,1464.4 C1140.0,1468.7 1161.2,1479.3 1171.9,1489.9 C1182.5,1500.5 1191.0,1513.9 1197.3,1528.1 C1203.7,1542.3 1207.9,1567.2 1210.1,1575.0" fill="none" stroke="#505050" stroke-width="3.5" opacity="0.50" stroke-linecap="round" filter="url(#cb)"/>
<path d="M833.1,1380.4 C834.4,1383.8 838.2,1393.1 840.7,1400.8 C843.3,1408.4 846.3,1417.8 848.4,1426.2 C850.5,1434.7 850.9,1443.2 853.5,1451.7 C856.0,1460.2 860.7,1468.7 863.7,1477.2 C866.6,1485.7 870.0,1494.2 871.3,1502.7 C872.6,1511.1 872.2,1519.6 871.3,1528.1 C870.5,1536.6 867.9,1545.8 866.2,1553.6 C864.5,1561.4 862.0,1571.4 861.1,1575.0" fill="none" stroke="#f6f6f6" stroke-width="3.0" opacity="0.75" stroke-linecap="round" filter="url(#cb)"/>
<path d="M1026.7,1474.6 C1036.0,1472.1 1064.9,1463.6 1082.7,1459.4 C1100.5,1455.1 1116.7,1451.7 1133.7,1449.2 C1150.6,1446.6 1167.6,1445.3 1184.6,1444.1 C1201.6,1442.8 1227.0,1441.9 1235.5,1441.5" fill="none" stroke="#f6f6f6" stroke-width="3.0" opacity="0.75" stroke-linecap="round" filter="url(#cb)"/>
<path d="M828.0,1281.1 C840.7,1278.5 878.9,1271.7 904.4,1265.8 C929.9,1259.8 959.6,1251.3 980.8,1245.4 C1002.1,1239.5 1023.3,1232.7 1031.8,1230.1" fill="none" stroke="#f6f6f6" stroke-width="2.0" opacity="0.35" stroke-linecap="round" filter="url(#cb)"/>
<path d="M828.0,1329.5 C840.7,1327.8 878.9,1323.9 904.4,1319.3 C929.9,1314.6 955.4,1309.1 980.8,1301.4 C1006.3,1293.8 1044.5,1278.1 1057.2,1273.4" fill="none" stroke="#f6f6f6" stroke-width="2.0" opacity="0.35" stroke-linecap="round" filter="url(#cb)"/>
<rect x="1258.5" y="819" width="2.5" height="756" fill="#c8c8c6" opacity="0.8"/>
<path d="M1000.0,1008.1 C1009.0,1012.1 1035.9,1021.1 1053.9,1032.4 C1071.9,1043.6 1092.1,1062.0 1107.8,1075.5 C1123.6,1089.0 1134.8,1099.8 1148.3,1113.2 C1161.8,1126.7 1177.5,1143.8 1188.7,1156.4 C1200.0,1169.0 1206.7,1177.9 1215.7,1188.7 C1224.7,1199.5 1235.1,1212.1 1242.7,1221.1 C1250.2,1230.1 1257.9,1239.1 1261.0,1242.7" fill="none" stroke="#f2f2f2" stroke-width="2.7" opacity="0.28" stroke-linecap="round" transform="translate(1.2,3.2)" filter="url(#cb)"/>
<path d="M1000.0,1008.1 C1009.0,1012.1 1035.9,1021.1 1053.9,1032.4 C1071.9,1043.6 1092.1,1062.0 1107.8,1075.5 C1123.6,1089.0 1134.8,1099.8 1148.3,1113.2 C1161.8,1126.7 1177.5,1143.8 1188.7,1156.4 C1200.0,1169.0 1206.7,1177.9 1215.7,1188.7 C1224.7,1199.5 1235.1,1212.1 1242.7,1221.1 C1250.2,1230.1 1257.9,1239.1 1261.0,1242.7" fill="none" stroke="#505050" stroke-width="4.5" opacity="0.75" stroke-linecap="round" filter="url(#cb)"/>
<path d="M1000.0,1056.6 C1006.7,1059.8 1027.0,1067.9 1040.4,1075.5 C1053.9,1083.1 1067.4,1092.6 1080.9,1102.5 C1094.4,1112.3 1107.8,1124.0 1121.3,1134.8 C1134.8,1145.6 1150.5,1158.2 1161.8,1167.2 C1173.0,1176.1 1179.7,1180.6 1188.7,1188.7 C1197.7,1196.8 1211.2,1211.2 1215.7,1215.7" fill="none" stroke="#f2f2f2" stroke-width="2.4" opacity="0.28" stroke-linecap="round" transform="translate(1.2,3.2)" filter="url(#cb)"/>
<path d="M1000.0,1056.6 C1006.7,1059.8 1027.0,1067.9 1040.4,1075.5 C1053.9,1083.1 1067.4,1092.6 1080.9,1102.5 C1094.4,1112.3 1107.8,1124.0 1121.3,1134.8 C1134.8,1145.6 1150.5,1158.2 1161.8,1167.2 C1173.0,1176.1 1179.7,1180.6 1188.7,1188.7 C1197.7,1196.8 1211.2,1211.2 1215.7,1215.7" fill="none" stroke="#505050" stroke-width="4.0" opacity="0.75" stroke-linecap="round" filter="url(#cb)"/>
<path d="M1000.0,1229.2 C1009.0,1225.1 1035.9,1212.5 1053.9,1204.9 C1071.9,1197.3 1089.9,1190.5 1107.8,1183.3 C1125.8,1176.1 1148.3,1167.2 1161.8,1161.8 C1175.2,1156.4 1177.5,1155.5 1188.7,1151.0 C1200.0,1146.5 1217.1,1140.2 1229.2,1134.8 C1241.2,1129.4 1255.7,1121.3 1261.0,1118.6" fill="none" stroke="#f2f2f2" stroke-width="2.7" opacity="0.28" stroke-linecap="round" transform="translate(1.2,3.2)" filter="url(#cb)"/>
<path d="M1000.0,1229.2 C1009.0,1225.1 1035.9,1212.5 1053.9,1204.9 C1071.9,1197.3 1089.9,1190.5 1107.8,1183.3 C1125.8,1176.1 1148.3,1167.2 1161.8,1161.8 C1175.2,1156.4 1177.5,1155.5 1188.7,1151.0 C1200.0,1146.5 1217.1,1140.2 1229.2,1134.8 C1241.2,1129.4 1255.7,1121.3 1261.0,1118.6" fill="none" stroke="#505050" stroke-width="4.5" opacity="0.75" stroke-linecap="round" filter="url(#cb)"/>
<path d="M1000.0,1269.6 C1009.0,1266.0 1035.9,1255.2 1053.9,1248.0 C1071.9,1240.9 1089.9,1233.7 1107.8,1226.5 C1125.8,1219.3 1143.8,1211.6 1161.8,1204.9 C1179.7,1198.2 1199.2,1192.3 1215.7,1186.0 C1232.2,1179.7 1253.4,1170.3 1261.0,1167.2" fill="none" stroke="#f2f2f2" stroke-width="2.7" opacity="0.28" stroke-linecap="round" transform="translate(1.2,3.2)" filter="url(#cb)"/>
<path d="M1000.0,1269.6 C1009.0,1266.0 1035.9,1255.2 1053.9,1248.0 C1071.9,1240.9 1089.9,1233.7 1107.8,1226.5 C1125.8,1219.3 1143.8,1211.6 1161.8,1204.9 C1179.7,1198.2 1199.2,1192.3 1215.7,1186.0 C1232.2,1179.7 1253.4,1170.3 1261.0,1167.2" fill="none" stroke="#505050" stroke-width="4.5" opacity="0.75" stroke-linecap="round" filter="url(#cb)"/>
<path d="M1000.0,1296.6 C1013.5,1292.1 1058.4,1277.7 1080.9,1269.6 C1103.4,1261.5 1116.8,1255.7 1134.8,1248.0 C1152.8,1240.4 1167.7,1233.7 1188.7,1223.8 C1209.8,1213.9 1248.9,1194.6 1261.0,1188.7" fill="none" stroke="#f2f2f2" stroke-width="2.4" opacity="0.28" stroke-linecap="round" transform="translate(1.2,3.2)" filter="url(#cb)"/>
<path d="M1000.0,1296.6 C1013.5,1292.1 1058.4,1277.7 1080.9,1269.6 C1103.4,1261.5 1116.8,1255.7 1134.8,1248.0 C1152.8,1240.4 1167.7,1233.7 1188.7,1223.8 C1209.8,1213.9 1248.9,1194.6 1261.0,1188.7" fill="none" stroke="#505050" stroke-width="4.0" opacity="0.75" stroke-linecap="round" filter="url(#cb)"/>
<path d="M1188.7,1000.0 C1189.6,1009.0 1192.3,1035.9 1194.1,1053.9 C1195.9,1071.9 1198.2,1089.9 1199.5,1107.8 C1200.9,1125.8 1201.3,1143.8 1202.2,1161.8 C1203.1,1179.7 1204.0,1197.7 1204.9,1215.7 C1205.8,1233.7 1206.7,1251.6 1207.6,1269.6 C1208.5,1287.6 1209.4,1301.8 1210.3,1323.5 C1211.2,1345.3 1212.5,1387.3 1213.0,1400.1" fill="none" stroke="#f2f2f2" stroke-width="2.4" opacity="0.28" stroke-linecap="round" transform="translate(1.2,3.2)" filter="url(#cb)"/>
<path d="M1188.7,1000.0 C1189.6,1009.0 1192.3,1035.9 1194.1,1053.9 C1195.9,1071.9 1198.2,1089.9 1199.5,1107.8 C1200.9,1125.8 1201.3,1143.8 1202.2,1161.8 C1203.1,1179.7 1204.0,1197.7 1204.9,1215.7 C1205.8,1233.7 1206.7,1251.6 1207.6,1269.6 C1208.5,1287.6 1209.4,1301.8 1210.3,1323.5 C1211.2,1345.3 1212.5,1387.3 1213.0,1400.1" fill="none" stroke="#505050" stroke-width="4.0" opacity="0.75" stroke-linecap="round" filter="url(#cb)"/>
<path d="M1223.8,1210.3 C1224.5,1220.2 1227.8,1250.7 1227.8,1269.6 C1227.8,1288.5 1226.7,1305.6 1223.8,1323.5 C1220.9,1341.5 1214.3,1364.7 1210.3,1377.5 C1206.3,1390.2 1201.3,1396.3 1199.5,1400.1" fill="none" stroke="#f2f2f2" stroke-width="2.4" opacity="0.28" stroke-linecap="round" transform="translate(1.2,3.2)" filter="url(#cb)"/>
<path d="M1223.8,1210.3 C1224.5,1220.2 1227.8,1250.7 1227.8,1269.6 C1227.8,1288.5 1226.7,1305.6 1223.8,1323.5 C1220.9,1341.5 1214.3,1364.7 1210.3,1377.5 C1206.3,1390.2 1201.3,1396.3 1199.5,1400.1" fill="none" stroke="#505050" stroke-width="4.0" opacity="0.75" stroke-linecap="round" filter="url(#cb)"/>
<path d="M1053.9,1000.0 C1054.4,1009.0 1056.2,1035.9 1056.6,1053.9 C1057.1,1071.9 1057.5,1089.9 1056.6,1107.8 C1055.7,1125.8 1053.9,1148.3 1051.2,1161.8 C1048.5,1175.2 1045.4,1179.7 1040.4,1188.7 C1035.5,1197.7 1024.7,1211.2 1021.6,1215.7" fill="none" stroke="#f2f2f2" stroke-width="2.4" opacity="0.28" stroke-linecap="round" transform="translate(1.2,3.2)" filter="url(#cb)"/>
<path d="M1053.9,1000.0 C1054.4,1009.0 1056.2,1035.9 1056.6,1053.9 C1057.1,1071.9 1057.5,1089.9 1056.6,1107.8 C1055.7,1125.8 1053.9,1148.3 1051.2,1161.8 C1048.5,1175.2 1045.4,1179.7 1040.4,1188.7 C1035.5,1197.7 1024.7,1211.2 1021.6,1215.7" fill="none" stroke="#505050" stroke-width="4.0" opacity="0.75" stroke-linecap="round" filter="url(#cb)"/>
<path d="M1000.0,1337.0 C1013.5,1336.1 1058.4,1334.8 1080.9,1331.6 C1103.4,1328.5 1119.1,1324.0 1134.8,1318.1 C1150.5,1312.3 1166.3,1304.7 1175.2,1296.6 C1184.2,1288.5 1185.6,1278.6 1188.7,1269.6 C1191.9,1260.6 1193.2,1247.1 1194.1,1242.7" fill="none" stroke="#f2f2f2" stroke-width="2.4" opacity="0.28" stroke-linecap="round" transform="translate(1.2,3.2)" filter="url(#cb)"/>
<path d="M1000.0,1337.0 C1013.5,1336.1 1058.4,1334.8 1080.9,1331.6 C1103.4,1328.5 1119.1,1324.0 1134.8,1318.1 C1150.5,1312.3 1166.3,1304.7 1175.2,1296.6 C1184.2,1288.5 1185.6,1278.6 1188.7,1269.6 C1191.9,1260.6 1193.2,1247.1 1194.1,1242.7" fill="none" stroke="#505050" stroke-width="4.0" opacity="0.75" stroke-linecap="round" filter="url(#cb)"/>
<path d="M1000.0,1358.6 C1018.0,1358.1 1080.9,1358.6 1107.8,1355.9 C1134.8,1353.2 1146.0,1348.7 1161.8,1342.4 C1177.5,1336.1 1191.9,1328.0 1202.2,1318.1 C1212.5,1308.3 1220.2,1288.9 1223.8,1283.1" fill="none" stroke="#f2f2f2" stroke-width="2.4" opacity="0.28" stroke-linecap="round" transform="translate(1.2,3.2)" filter="url(#cb)"/>
<path d="M1000.0,1358.6 C1018.0,1358.1 1080.9,1358.6 1107.8,1355.9 C1134.8,1353.2 1146.0,1348.7 1161.8,1342.4 C1177.5,1336.1 1191.9,1328.0 1202.2,1318.1 C1212.5,1308.3 1220.2,1288.9 1223.8,1283.1" fill="none" stroke="#505050" stroke-width="4.0" opacity="0.75" stroke-linecap="round" filter="url(#cb)"/>
<path d="M1094.4,1000.0 C1095.7,1009.0 1098.9,1035.9 1102.5,1053.9 C1106.0,1071.9 1111.9,1092.1 1115.9,1107.8 C1120.0,1123.6 1123.6,1134.8 1126.7,1148.3 C1129.9,1161.8 1132.6,1177.5 1134.8,1188.7 C1137.1,1200.0 1138.9,1204.5 1140.2,1215.7 C1141.5,1226.9 1142.4,1249.4 1142.9,1256.1" fill="none" stroke="#f2f2f2" stroke-width="2.1" opacity="0.28" stroke-linecap="round" transform="translate(1.2,3.2)" filter="url(#cb)"/>
<path d="M1094.4,1000.0 C1095.7,1009.0 1098.9,1035.9 1102.5,1053.9 C1106.0,1071.9 1111.9,1092.1 1115.9,1107.8 C1120.0,1123.6 1123.6,1134.8 1126.7,1148.3 C1129.9,1161.8 1132.6,1177.5 1134.8,1188.7 C1137.1,1200.0 1138.9,1204.5 1140.2,1215.7 C1141.5,1226.9 1142.4,1249.4 1142.9,1256.1" fill="none" stroke="#505050" stroke-width="3.5" opacity="0.75" stroke-linecap="round" filter="url(#cb)"/>
<path d="M1242.7,1000.0 C1240.4,1006.7 1235.9,1027.0 1229.2,1040.4 C1222.4,1053.9 1213.4,1067.4 1202.2,1080.9 C1191.0,1094.4 1175.2,1107.8 1161.8,1121.3 C1148.3,1134.8 1134.8,1148.3 1121.3,1161.8 C1107.8,1175.2 1094.4,1188.7 1080.9,1202.2 C1067.4,1215.7 1053.9,1230.5 1040.4,1242.7 C1027.0,1254.8 1006.7,1269.6 1000.0,1275.0" fill="none" stroke="#f2f2f2" stroke-width="2.4" opacity="0.28" stroke-linecap="round" transform="translate(1.2,3.2)" filter="url(#cb)"/>
<path d="M1242.7,1000.0 C1240.4,1006.7 1235.9,1027.0 1229.2,1040.4 C1222.4,1053.9 1213.4,1067.4 1202.2,1080.9 C1191.0,1094.4 1175.2,1107.8 1161.8,1121.3 C1148.3,1134.8 1134.8,1148.3 1121.3,1161.8 C1107.8,1175.2 1094.4,1188.7 1080.9,1202.2 C1067.4,1215.7 1053.9,1230.5 1040.4,1242.7 C1027.0,1254.8 1006.7,1269.6 1000.0,1275.0" fill="none" stroke="#505050" stroke-width="4.0" opacity="0.75" stroke-linecap="round" filter="url(#cb)"/>
<path d="M1261.0,1027.0 C1255.7,1033.7 1241.2,1053.9 1229.2,1067.4 C1217.1,1080.9 1200.0,1095.7 1188.7,1107.8 C1177.5,1120.0 1166.3,1134.8 1161.8,1140.2" fill="none" stroke="#f2f2f2" stroke-width="2.1" opacity="0.28" stroke-linecap="round" transform="translate(1.2,3.2)" filter="url(#cb)"/>
<path d="M1261.0,1027.0 C1255.7,1033.7 1241.2,1053.9 1229.2,1067.4 C1217.1,1080.9 1200.0,1095.7 1188.7,1107.8 C1177.5,1120.0 1166.3,1134.8 1161.8,1140.2" fill="none" stroke="#505050" stroke-width="3.5" opacity="0.75" stroke-linecap="round" filter="url(#cb)"/>
<path d="M1261.0,1107.8 C1257.9,1111.4 1250.2,1122.2 1242.7,1129.4 C1235.1,1136.6 1224.7,1144.7 1215.7,1151.0 C1206.7,1157.3 1197.7,1160.9 1188.7,1167.2 C1179.7,1173.5 1170.8,1180.6 1161.8,1188.7 C1152.8,1196.8 1139.3,1211.2 1134.8,1215.7" fill="none" stroke="#f2f2f2" stroke-width="2.1" opacity="0.28" stroke-linecap="round" transform="translate(1.2,3.2)" filter="url(#cb)"/>
<path d="M1261.0,1107.8 C1257.9,1111.4 1250.2,1122.2 1242.7,1129.4 C1235.1,1136.6 1224.7,1144.7 1215.7,1151.0 C1206.7,1157.3 1197.7,1160.9 1188.7,1167.2 C1179.7,1173.5 1170.8,1180.6 1161.8,1188.7 C1152.8,1196.8 1139.3,1211.2 1134.8,1215.7" fill="none" stroke="#505050" stroke-width="3.5" opacity="0.60" stroke-linecap="round" filter="url(#cb)"/>
<rect x="1000" y="1155" width="261" height="3" fill="#505050" opacity="0.25" filter="url(#cb)"/>
</g>
<rect x="629.5" y="1180" width="11" height="154.5" fill="#1a9a45"/>
<path d="M635,1128 Q636,1127 637,1129 L652,1184 Q652,1187 649,1187 L621,1187 Q618,1187 618.5,1184 L633,1129 Q634,1127 635,1128 Z" fill="#1a9a45"/>
<text x="661.0" y="1153.0" font-size="36.0" text-anchor="start" fill="#000" font-style="italic" >c</text>
<rect x="429" y="1500.5" width="169.5" height="17" fill="#fff"/>
</svg></body></html>
